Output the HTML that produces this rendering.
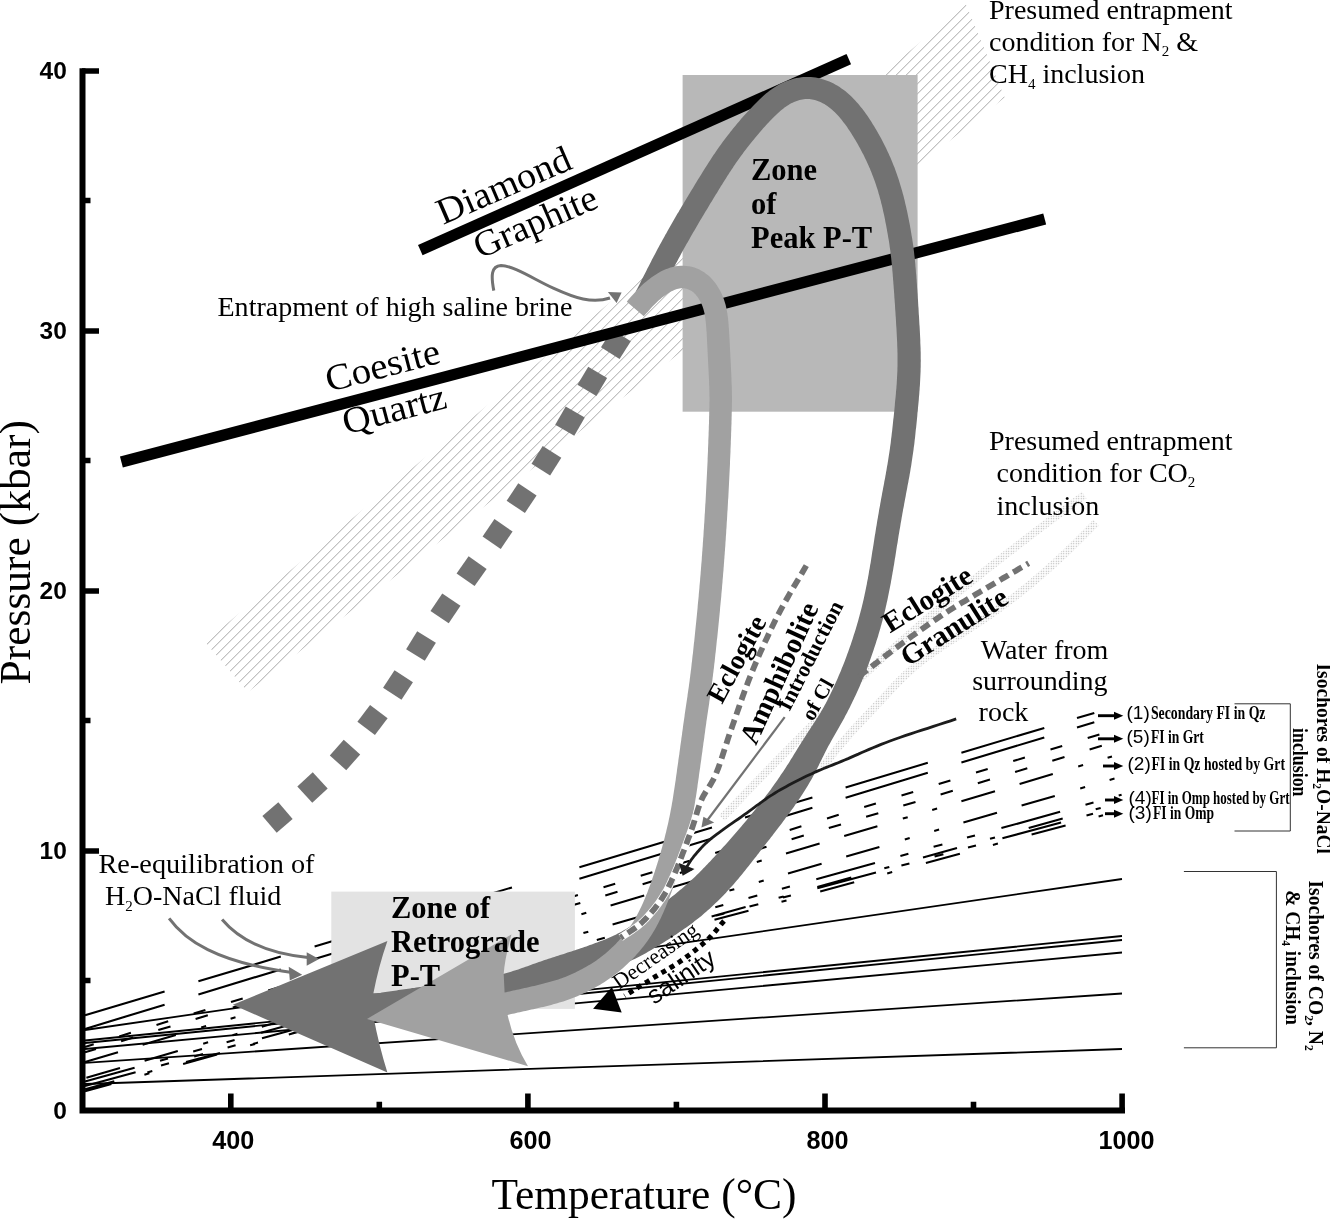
<!DOCTYPE html>
<html><head><meta charset="utf-8"><title>P-T path diagram</title>
<style>
html,body{margin:0;padding:0;background:#fff;}
body{width:1330px;height:1219px;overflow:hidden;}
svg{display:block;}
text{fill:#000;}
</style></head><body>
<svg width="1330" height="1219" viewBox="0 0 1330 1219">
<defs>
<pattern id="hatch" patternUnits="userSpaceOnUse" width="10" height="10" patternTransform="translate(1.3 0)">
<path d="M-1 1L1 -1M0 10L10 0M9 11L11 9" stroke="#a6a6a6" stroke-width="1" fill="none"/>
</pattern>
<pattern id="stip" patternUnits="userSpaceOnUse" width="2.5" height="2.5">
<rect x="0.7" y="0.7" width="1.1" height="1.1" fill="#aaaaaa"/>
</pattern>
</defs>
<rect x="0" y="0" width="1330" height="1219" fill="#fff"/>
<polygon points="205,642 965.8,4 1004.7,97.6 248,692" fill="url(#hatch)"/>
<rect x="682.6" y="75" width="235" height="336.7" fill="#b8b8b8"/>
<path d="M722.0 818.0 L723.4 816.5 L724.8 815.1 L726.1 813.6 L727.5 812.2 L728.9 810.7 L730.3 809.3 L731.6 807.9 L733.0 806.4 L734.4 805.0 L735.8 803.5 L737.2 802.1 L738.5 800.6 L739.9 799.2 L741.3 797.7 L742.7 796.3 L744.1 794.8 L745.4 793.4 L746.8 791.9 L748.2 790.5 L749.6 789.0 L751.0 787.6 L752.4 786.2 L753.8 784.7 L755.1 783.3 L756.5 781.8 L757.9 780.4 L759.3 779.0 L760.7 777.5 L762.1 776.1 L763.5 774.7 L764.9 773.2 L766.3 771.8 L767.7 770.4 L769.1 768.9 L770.5 767.5 L771.9 766.1 L773.3 764.6 L774.6 763.2 L776.0 761.8 L777.4 760.3 L778.8 758.9 L780.2 757.5 L781.7 756.1 L783.1 754.6 L784.5 753.2 L785.9 751.8 L787.3 750.4 L788.7 748.9 L790.1 747.5 L791.5 746.1 L792.9 744.7 L794.3 743.2 L795.7 741.8 L797.1 740.4 L798.5 739.0 L799.9 737.5 L801.3 736.1 L802.7 734.7 L804.1 733.3 L805.5 731.9 L806.9 730.4 L808.4 729.0 L809.8 727.6 L811.2 726.2 L812.6 724.8 L814.0 723.4 L815.4 721.9 L816.8 720.5 L818.2 719.1 L819.6 717.7 L821.1 716.3 L822.5 714.9 L823.9 713.4 L825.3 712.0 L826.7 710.6 L828.1 709.2 L829.6 707.8 L831.0 706.4 L832.4 705.0 L833.8 703.6 L835.3 702.2 L836.7 700.8 L838.1 699.4 L839.6 698.0 L841.0 696.6 L842.4 695.2 L843.9 693.8 L845.3 692.4 L846.7 691.1 L848.2 689.7 L849.6 688.3 L851.1 686.9 L852.5 685.5 L854.0 684.2 L855.4 682.8 L856.9 681.4 L858.4 680.1 L859.8 678.7 L861.3 677.3 L862.7 676.0 L864.2 674.6 L865.7 673.3 L867.2 671.9 L868.6 670.5 L870.1 669.2 L871.6 667.8 L873.1 666.5 L874.5 665.2 L876.0 663.8 L877.5 662.5 L879.0 661.1 L880.5 659.8 L882.0 658.5 L883.4 657.1 L884.9 655.8 L886.4 654.5 L887.9 653.1 L889.4 651.8 L890.9 650.5 L892.4 649.1 L893.9 647.8 L895.4 646.5 L896.9 645.2 L898.4 643.8 L899.9 642.5 L901.4 641.2 L902.9 639.9 L904.4 638.5 L905.9 637.2 L907.4 635.9 L908.9 634.6 L910.4 633.3 L911.9 632.0 L913.4 630.6 L914.9 629.3 L916.4 628.0 L917.9 626.7 L919.4 625.4 L921.0 624.1 L922.5 622.8 L924.0 621.4 L925.5 620.1 L927.0 618.8 L928.5 617.5 L930.0 616.2 L931.5 614.9 L933.1 613.6 L934.6 612.3 L936.1 611.0 L937.6 609.7 L939.1 608.4 L940.7 607.1 L942.2 605.8 L943.7 604.5 L945.2 603.2 L946.8 602.0 L948.3 600.7 L949.8 599.4 L951.4 598.1 L952.9 596.8 L954.4 595.5 L956.0 594.3 L957.5 593.0 L959.1 591.7 L960.6 590.5 L962.2 589.2 L963.7 587.9 L965.3 586.7 L966.8 585.4 L968.4 584.1 L969.9 582.9 L971.5 581.6 L973.0 580.4 L974.6 579.1 L976.2 577.9 L977.7 576.6 L979.3 575.4 L980.8 574.1 L982.4 572.9 L984.0 571.6 L985.5 570.4 L987.1 569.2 L988.7 567.9 L990.3 566.7 L991.8 565.5 L993.4 564.2 L995.0 563.0 L996.6 561.8 L998.1 560.5 L999.7 559.3 L1001.3 558.1 L1002.9 556.8 L1004.4 555.6 L1006.0 554.4 L1007.6 553.2 L1009.2 551.9 L1010.8 550.7 L1012.4 549.5 L1013.9 548.3 L1015.5 547.1 L1017.1 545.8 L1018.7 544.6 L1020.3 543.4 L1021.9 542.2 L1023.4 541.0 L1025.0 539.8 L1026.6 538.5 L1028.2 537.3 L1029.8 536.1 L1031.4 534.9 L1033.0 533.7 L1034.5 532.5 L1036.1 531.3 L1037.7 530.1 L1039.3 528.9 L1040.9 527.7 L1042.4 526.5 L1044.0 525.3 L1045.6 524.1 L1047.2 522.9 L1048.7 521.7 L1050.3 520.5 L1051.9 519.3 L1053.4 518.2 L1055.0 517.0 L1056.6 515.8 L1058.1 514.6 L1059.7 513.5 L1061.2 512.3 L1062.8 511.1 L1064.3 509.9 L1065.9 508.8 L1067.4 507.6 L1068.9 506.5 L1070.5 505.3 L1072.0 504.2 L1073.5 503.0 L1075.1 501.9 L1076.6 500.7 L1078.1 499.6 L1079.6 498.4 L1081.2 497.3 L1082.7 496.1 L1084.2 495.0" fill="none" stroke="url(#stip)" stroke-width="8"/>
<path d="M822.0 768.0 L823.2 766.4 L824.4 764.8 L825.6 763.3 L826.8 761.7 L828.1 760.1 L829.3 758.5 L830.5 757.0 L831.7 755.4 L833.0 753.9 L834.2 752.3 L835.4 750.7 L836.7 749.2 L838.0 747.7 L839.2 746.1 L840.5 744.6 L841.8 743.1 L843.1 741.6 L844.4 740.1 L845.7 738.6 L847.0 737.1 L848.3 735.6 L849.6 734.1 L851.0 732.6 L852.3 731.2 L853.6 729.7 L855.0 728.2 L856.3 726.8 L857.7 725.3 L859.1 723.9 L860.4 722.4 L861.8 720.9 L863.2 719.5 L864.5 718.1 L865.9 716.6 L867.3 715.2 L868.6 713.7 L870.0 712.3 L871.4 710.8 L872.7 709.4 L874.1 707.9 L875.4 706.5 L876.8 705.0 L878.2 703.6 L879.5 702.1 L880.9 700.7 L882.2 699.2 L883.6 697.8 L884.9 696.3 L886.3 694.9 L887.6 693.4 L889.0 692.0 L890.3 690.5 L891.7 689.1 L893.0 687.6 L894.4 686.2 L895.7 684.8 L897.1 683.4 L898.5 681.9 L899.9 680.5 L901.3 679.1 L902.7 677.8 L904.1 676.4 L905.5 675.0 L906.9 673.7 L908.4 672.3 L909.8 671.0 L911.3 669.7 L912.7 668.4 L914.2 667.1 L915.7 665.8 L917.2 664.5 L918.7 663.3 L920.3 662.0 L921.8 660.8 L923.4 659.6 L924.9 658.4 L926.5 657.2 L928.1 656.0 L929.7 654.9 L931.3 653.7 L932.9 652.6 L934.5 651.4 L936.2 650.3 L937.8 649.2 L939.5 648.1 L941.1 646.9 L942.8 645.8 L944.4 644.8 L946.1 643.7 L947.8 642.6 L949.4 641.5 L951.1 640.4 L952.8 639.3 L954.5 638.3 L956.2 637.2 L957.8 636.1 L959.5 635.0 L961.2 634.0 L962.9 632.9 L964.6 631.8 L966.2 630.7 L967.9 629.6 L969.6 628.6 L971.3 627.5 L973.0 626.4 L974.6 625.3 L976.3 624.2 L978.0 623.1 L979.6 622.0 L981.3 620.9 L982.9 619.7 L984.6 618.6 L986.2 617.5 L987.9 616.4 L989.5 615.2 L991.2 614.1 L992.8 612.9 L994.4 611.8 L996.0 610.6 L997.7 609.4 L999.3 608.3 L1000.9 607.1 L1002.5 605.9 L1004.1 604.7 L1005.7 603.5 L1007.3 602.3 L1008.9 601.1 L1010.5 599.9 L1012.1 598.7 L1013.7 597.5 L1015.3 596.3 L1016.8 595.0 L1018.4 593.8 L1020.0 592.6 L1021.5 591.3 L1023.1 590.1 L1024.6 588.8 L1026.2 587.6 L1027.7 586.3 L1029.3 585.0 L1030.8 583.8 L1032.4 582.5 L1033.9 581.2 L1035.4 579.9 L1036.9 578.6 L1038.5 577.3 L1040.0 576.0 L1041.5 574.7 L1043.0 573.4 L1044.5 572.1 L1046.0 570.8 L1047.5 569.5 L1049.0 568.1 L1050.5 566.8 L1052.0 565.5 L1053.4 564.1 L1054.9 562.8 L1056.4 561.5 L1057.9 560.1 L1059.3 558.7 L1060.8 557.4 L1062.2 556.0 L1063.7 554.7 L1065.1 553.3 L1066.6 551.9 L1068.0 550.6 L1069.4 549.2 L1070.8 547.8 L1072.3 546.4 L1073.7 545.0 L1075.1 543.6 L1076.5 542.3 L1077.9 540.9 L1079.3 539.5 L1080.7 538.1 L1082.1 536.7 L1083.5 535.3 L1084.9 533.9 L1086.3 532.5 L1087.7 531.1 L1089.1 529.7 L1090.5 528.3 L1091.8 526.9 L1093.2 525.5 L1094.6 524.1 L1096.0 522.7" fill="none" stroke="url(#stip)" stroke-width="8"/>
<path d="M85 1030.0L1122 879.0M85 1040.5L1122 936.0M85 1043.0L1122 940.0M85 1049.0L1122 952.5M85 1062.8L1122 993.5M85 1084.0L1122 1049.0" stroke="#000" stroke-width="1.8" fill="none"/>
<path d="M85.0 1015.3L164.6 991.5M198.4 981.3L280.8 956.6M314.6 946.5L397.0 921.8M430.0 911.9L512.0 887.4M579.4 867.2L712.0 827.5M745.0 817.6L812.4 797.4M845.6 787.4L927.8 762.8M961.4 752.7L1044.3 727.9M1077.0 718.1L1094.3 712.9M85.0 1028.9L164.6 1004.7M198.4 994.4L280.8 969.4M314.6 959.1L397.0 934.1M430.0 924.1L512.0 899.1M579.4 878.7L712.0 838.4M745.0 828.3L812.4 807.8M845.6 797.8L927.8 772.8M961.4 762.6L1044.3 737.4M1077.0 727.4L1094.3 722.2M85.0 1047.0L93.7 1044.3M119.2 1036.4L130.9 1032.8M156.5 1024.9L168.2 1021.3M193.7 1013.5L205.4 1009.9M231.0 1002.0L242.7 998.4M268.2 990.5L279.9 986.9M305.5 979.1L317.2 975.5M342.7 967.6L354.4 964.0M380.0 956.1L391.7 952.5M417.2 944.6L428.9 941.0M454.5 933.2L466.2 929.6M491.7 921.7L503.4 918.1M529.0 910.2L540.7 906.6M566.2 898.7L577.9 895.1M603.5 887.3L615.2 883.7M640.7 875.8L652.4 872.2M678.0 864.3L689.7 860.7M715.2 852.9L726.9 849.3M752.5 841.4L764.2 837.8M789.7 829.9L801.4 826.3M827.0 818.4L838.7 814.8M864.2 807.0L875.9 803.4M901.5 795.5L913.2 791.9M938.7 784.0L950.4 780.4M976.0 772.5L987.7 768.9M1013.2 761.1L1024.9 757.5M1050.5 749.6L1062.2 746.0M1087.7 738.1L1099.4 734.5M85.0 1052.2L96.0 1048.9M121.1 1041.3L133.3 1037.6M158.3 1030.1L170.5 1026.4M195.6 1018.9L207.8 1015.2M232.8 1007.6L245.0 1004.0M270.1 996.4L282.3 992.7M307.3 985.2L319.5 981.5M344.6 974.0L356.8 970.3M381.8 962.8L394.0 959.1M419.1 951.5L431.3 947.9M456.3 940.3L468.5 936.6M493.6 929.1L505.8 925.4M530.8 917.9L543.0 914.2M568.1 906.6L580.3 903.0M605.3 895.4L617.5 891.7M642.6 884.2L654.8 880.5M679.8 873.0L692.0 869.3M717.1 861.7L729.3 858.1M754.3 850.5L766.5 846.8M791.6 839.3L803.8 835.6M828.8 828.1L841.0 824.4M866.1 816.8L878.3 813.2M903.3 805.6L915.5 801.9M940.6 794.4L952.8 790.7M977.8 783.2L990.0 779.5M1015.1 772.0L1027.3 768.3M1052.3 760.7L1064.5 757.1M1089.6 749.5L1101.8 745.8M85.0 1062.0L118.0 1052.2M142.6 1044.8L175.8 1035.0M201.2 1027.4L206.1 1025.9M230.6 1018.7L235.5 1017.2M259.8 1010.0L293.4 1000.0M318.0 992.6L351.2 982.8M376.6 975.2L381.5 973.8M406.0 966.5L410.9 965.0M435.2 957.8L468.8 947.8M493.4 940.4L526.6 930.6M552.0 923.0L556.9 921.6M581.4 914.3L586.3 912.8M610.6 905.6L644.2 895.6M668.8 888.3L702.0 878.4M727.4 870.8L732.3 869.4M756.8 862.1L761.7 860.6M786.0 853.4L819.6 843.4M844.2 836.1L877.4 826.2M902.8 818.6L907.7 817.2M932.2 809.9L937.1 808.4M961.4 801.2L995.0 791.2M1019.6 783.9L1052.8 774.0M1078.2 766.4L1083.1 765.0M1107.6 757.7L1112.0 756.4M86.4 1077.7L120.0 1067.9M144.6 1060.8L177.8 1051.1M203.2 1043.7L208.1 1042.3M232.6 1035.2L237.5 1033.8M261.8 1026.7L295.4 1016.9M320.0 1009.7L353.2 1000.1M378.6 992.7L383.5 991.3M408.0 984.1L412.9 982.7M437.2 975.6L470.8 965.9M495.4 958.7L528.6 949.0M554.0 941.7L558.9 940.2M583.4 933.1L588.3 931.7M612.6 924.6L646.2 914.8M670.8 907.7L704.0 898.0M729.4 890.6L734.3 889.2M758.8 882.1L763.7 880.6M788.0 873.6L821.6 863.8M846.2 856.6L879.4 847.0M904.8 839.6L909.7 838.1M934.2 831.0L939.1 829.6M963.4 822.5L997.0 812.7M1021.6 805.6L1054.8 795.9M1080.2 788.5L1085.1 787.1M1109.6 780.0L1114.5 778.6M85.0 1081.4L134.6 1067.7M160.0 1060.7L168.0 1058.5M193.2 1051.5L202.0 1049.1M226.6 1042.3L234.6 1040.1M261.0 1032.8L319.7 1016.5M345.1 1009.5L353.1 1007.3M378.3 1000.3L387.1 997.9M411.7 991.1L419.7 988.9M446.1 981.6L504.8 965.4M530.2 958.3L538.2 956.1M563.4 949.2L572.2 946.7M596.8 939.9L604.8 937.7M631.2 930.4L689.9 914.2M715.3 907.2L723.3 904.9M748.5 898.0L757.3 895.5M781.9 888.7L789.9 886.5M816.3 879.2L875.0 863.0M900.4 856.0L908.4 853.8M933.6 846.8L942.4 844.4M967.0 837.6L975.0 835.4M1001.4 828.1L1060.1 811.8M1085.5 804.8L1093.5 802.6M1118.7 795.6L1121.6 794.8M85.0 1086.0L135.6 1072.3M161.0 1065.5L169.0 1063.3M194.2 1056.5L203.0 1054.1M227.6 1047.5L235.6 1045.3M262.0 1038.2L320.7 1022.3M346.1 1015.5L354.1 1013.3M379.3 1006.5L388.1 1004.1M412.7 997.5L420.7 995.3M447.1 988.2L505.8 972.4M531.2 965.5L539.2 963.3M564.4 956.5L573.2 954.2M597.8 947.5L605.8 945.4M632.2 938.2L690.9 922.4M716.3 915.5L724.3 913.4M749.5 906.6L758.3 904.2M782.9 897.5L790.9 895.4M817.3 888.2L876.0 872.4M901.4 865.5L909.4 863.4M934.6 856.6L943.4 854.2M968.0 847.6L976.0 845.4M1002.4 838.3L1061.1 822.4M1086.5 815.6L1093.0 813.8M85.0 1091.3L111.4 1083.9M144.4 1074.7L149.4 1073.3M183.1 1063.9L217.1 1054.5M250.1 1045.2L255.1 1043.9M288.8 1034.5L322.8 1025.0M355.8 1015.8L360.8 1014.4M394.5 1005.0L428.5 995.5M461.5 986.3L466.5 984.9M500.2 975.5L534.2 966.0M567.2 956.8L572.2 955.4M605.9 946.0L639.9 936.5M672.9 927.3L677.9 925.9M711.6 916.5L745.6 907.0M778.6 897.8L783.6 896.4M817.3 887.0L851.3 877.5M884.3 868.3L889.3 866.9M923.0 857.5L957.0 848.0M990.0 838.8L995.0 837.4M1028.7 828.0L1062.7 818.5M1095.7 809.3L1100.7 807.9M85.0 1089.2L114.3 1081.3M147.3 1072.4L152.3 1071.1M186.0 1062.0L220.0 1052.9M253.0 1044.0L258.0 1042.6M291.7 1033.6L325.7 1024.4M358.7 1015.5L363.7 1014.2M397.4 1005.1L431.4 996.0M464.4 987.1L469.4 985.8M503.1 976.7L537.1 967.6M570.1 958.7L575.1 957.3M608.8 948.3L642.8 939.1M675.8 930.2L680.8 928.9M714.5 919.8L748.5 910.7M781.5 901.8L786.5 900.5M820.2 891.4L854.2 882.3M887.2 873.4L892.2 872.0M925.9 863.0L959.9 853.8M992.9 844.9L997.9 843.6M1031.6 834.5L1065.6 825.4M1098.6 816.5L1103.0 815.3" stroke="#000" stroke-width="2.1" fill="none"/>
<rect x="331.3" y="891.6" width="243.6" height="117.3" fill="#e3e3e3"/>
<rect x="267.0" y="806.5" width="21" height="22" fill="#727272" transform="rotate(-40.6 277.5 817.5)"/>
<rect x="302.0" y="776.5" width="21" height="22" fill="#727272" transform="rotate(-42.8 312.5 787.5)"/>
<rect x="334.5" y="744.0" width="21" height="22" fill="#727272" transform="rotate(-48.4 345.0 755.0)"/>
<rect x="362.0" y="709.0" width="21" height="22" fill="#727272" transform="rotate(-52.9 372.5 720.0)"/>
<rect x="387.5" y="674.0" width="21" height="22" fill="#727272" transform="rotate(-56.8 398.0 685.0)"/>
<rect x="410.5" y="635.0" width="21" height="22" fill="#727272" transform="rotate(-58.2 421.0 646.0)"/>
<rect x="435.0" y="597.4" width="21" height="22" fill="#727272" transform="rotate(-55.9 445.5 608.4)"/>
<rect x="461.1" y="560.2" width="21" height="22" fill="#727272" transform="rotate(-55.0 471.6 571.2)"/>
<rect x="487.1" y="523.0" width="21" height="22" fill="#727272" transform="rotate(-55.6 497.6 534.0)"/>
<rect x="511.1" y="487.1" width="21" height="22" fill="#727272" transform="rotate(-56.3 521.6 498.1)"/>
<rect x="535.9" y="449.8" width="21" height="22" fill="#727272" transform="rotate(-57.8 546.4 460.8)"/>
<rect x="559.5" y="410.1" width="21" height="22" fill="#727272" transform="rotate(-60.0 570.0 421.1)"/>
<rect x="581.8" y="370.4" width="21" height="22" fill="#727272" transform="rotate(-59.2 592.3 381.4)"/>
<rect x="605.4" y="333.2" width="21" height="22" fill="#727272" transform="rotate(-57.6 615.9 344.2)"/>
<line x1="420.3" y1="250.1" x2="848.8" y2="59.1" stroke="#000" stroke-width="11.2"/>
<line x1="121.4" y1="462" x2="1044.7" y2="219" stroke="#000" stroke-width="11.3"/>
<path d="M635.7 291.8 L636.6 290.1 L637.5 288.3 L638.4 286.5 L639.3 284.7 L640.2 282.9 L641.1 281.1 L642.0 279.3 L642.9 277.5 L643.8 275.7 L644.7 274.0 L645.6 272.2 L646.5 270.4 L647.4 268.6 L648.4 266.8 L649.3 265.0 L650.2 263.2 L651.1 261.4 L652.0 259.6 L653.0 257.8 L653.9 256.0 L654.9 254.2 L655.8 252.4 L656.8 250.6 L657.7 248.8 L658.7 247.0 L659.6 245.3 L660.6 243.5 L661.6 241.7 L662.5 239.9 L663.5 238.2 L664.5 236.4 L665.5 234.6 L666.5 232.9 L667.5 231.1 L668.5 229.3 L669.5 227.6 L670.5 225.8 L671.5 224.1 L672.5 222.3 L673.5 220.6 L674.5 218.8 L675.5 217.1 L676.5 215.3 L677.5 213.6 L678.6 211.9 L679.6 210.1 L680.6 208.4 L681.7 206.6 L682.7 204.9 L683.7 203.2 L684.7 201.5 L685.8 199.7 L686.8 198.0 L687.9 196.3 L688.9 194.6 L689.9 192.9 L691.0 191.1 L692.0 189.4 L693.1 187.7 L694.1 186.0 L695.1 184.3 L696.2 182.6 L697.2 180.8 L698.3 179.1 L699.3 177.4 L700.4 175.7 L701.5 174.0 L702.5 172.3 L703.6 170.5 L704.7 168.8 L705.8 167.1 L706.8 165.4 L707.9 163.7 L709.0 162.0 L710.2 160.2 L711.3 158.5 L712.4 156.8 L713.5 155.1 L714.7 153.4 L715.8 151.7 L717.0 150.0 L718.2 148.3 L719.4 146.6 L720.6 145.0 L721.8 143.3 L723.0 141.6 L724.2 140.0 L725.5 138.3 L726.7 136.7 L728.0 135.0 L729.3 133.4 L730.5 131.8 L731.8 130.2 L733.1 128.6 L734.4 127.0 L735.7 125.4 L737.0 123.8 L738.4 122.2 L739.7 120.7 L741.0 119.1 L742.4 117.6 L743.7 116.0 L745.1 114.5 L746.5 112.9 L747.9 111.4 L749.3 109.9 L750.7 108.4 L752.1 106.9 L753.5 105.4 L755.0 103.9 L756.5 102.4 L758.0 100.9 L759.5 99.4 L761.1 97.9 L762.7 96.5 L764.3 95.0 L766.0 93.6 L767.7 92.2 L769.5 90.8 L771.3 89.5 L773.1 88.2 L775.0 87.0 L777.0 85.8 L779.0 84.6 L781.0 83.5 L783.1 82.5 L785.3 81.6 L787.5 80.7 L789.7 79.9 L791.9 79.2 L794.2 78.6 L796.5 78.1 L798.9 77.7 L801.3 77.3 L803.6 77.1 L806.0 77.0 L808.4 77.0 L810.8 77.1 L813.2 77.3 L815.6 77.6 L818.0 78.0 L820.3 78.6 L822.6 79.2 L824.9 79.9 L827.1 80.7 L829.3 81.6 L831.5 82.5 L833.6 83.6 L835.6 84.7 L837.6 85.8 L839.6 87.1 L841.5 88.4 L843.4 89.7 L845.2 91.1 L846.9 92.6 L848.6 94.0 L850.3 95.6 L851.9 97.1 L853.5 98.7 L855.0 100.3 L856.5 101.9 L858.0 103.6 L859.4 105.3 L860.7 106.9 L862.1 108.6 L863.4 110.3 L864.7 112.1 L865.9 113.8 L867.2 115.5 L868.4 117.3 L869.5 119.0 L870.7 120.8 L871.8 122.6 L872.9 124.4 L874.0 126.1 L875.1 127.9 L876.2 129.7 L877.2 131.5 L878.3 133.4 L879.3 135.2 L880.3 137.0 L881.3 138.8 L882.3 140.7 L883.2 142.5 L884.2 144.4 L885.1 146.3 L886.0 148.1 L886.9 150.0 L887.8 151.9 L888.7 153.8 L889.5 155.7 L890.4 157.6 L891.2 159.6 L892.0 161.5 L892.8 163.4 L893.6 165.4 L894.4 167.3 L895.1 169.3 L895.8 171.3 L896.5 173.2 L897.2 175.2 L897.9 177.2 L898.6 179.2 L899.2 181.2 L899.8 183.2 L900.4 185.2 L901.0 187.2 L901.6 189.2 L902.2 191.2 L902.7 193.2 L903.3 195.2 L903.8 197.2 L904.3 199.2 L904.8 201.2 L905.2 203.2 L905.7 205.3 L906.2 207.3 L906.6 209.3 L907.1 211.3 L907.5 213.3 L907.9 215.3 L908.3 217.3 L908.7 219.3 L909.1 221.3 L909.5 223.3 L909.9 225.3 L910.2 227.3 L910.6 229.3 L910.9 231.3 L911.3 233.4 L911.6 235.4 L912.0 237.4 L912.3 239.4 L912.6 241.5 L912.9 243.5 L913.2 245.6 L913.5 247.6 L913.7 249.6 L914.0 251.7 L914.2 253.7 L914.4 255.8 L914.7 257.8 L914.9 259.9 L915.1 261.9 L915.3 263.9 L915.4 266.0 L915.6 268.0 L915.8 270.0 L915.9 272.0 L916.1 274.0 L916.3 276.1 L916.4 278.1 L916.6 280.1 L916.7 282.1 L916.9 284.1 L917.0 286.1 L917.1 288.1 L917.3 290.1 L917.4 292.1 L917.6 294.1 L917.7 296.1 L917.8 298.1 L918.0 300.1 L918.1 302.1 L918.2 304.1 L918.3 306.1 L918.5 308.1 L918.6 310.1 L918.7 312.2 L918.8 314.2 L919.0 316.2 L919.1 318.2 L919.2 320.2 L919.3 322.2 L919.4 324.2 L919.6 326.2 L919.7 328.2 L919.8 330.2 L919.9 332.2 L920.0 334.3 L920.1 336.3 L920.2 338.3 L920.3 340.3 L920.3 342.4 L920.4 344.4 L920.5 346.4 L920.6 348.5 L920.6 350.5 L920.7 352.6 L920.7 354.6 L920.7 356.7 L920.7 358.8 L920.8 360.8 L920.7 362.9 L920.7 365.0 L920.7 367.0 L920.6 369.1 L920.6 371.2 L920.5 373.2 L920.4 375.3 L920.3 377.4 L920.2 379.4 L920.1 381.5 L920.0 383.5 L919.9 385.6 L919.7 387.6 L919.6 389.7 L919.4 391.7 L919.3 393.7 L919.1 395.7 L918.9 397.8 L918.8 399.8 L918.6 401.8 L918.4 403.8 L918.2 405.8 L918.0 407.8 L917.8 409.8 L917.6 411.8 L917.4 413.8 L917.3 415.8 L917.1 417.8 L916.9 419.8 L916.7 421.8 L916.5 423.8 L916.3 425.8 L916.1 427.8 L915.8 429.8 L915.6 431.8 L915.4 433.9 L915.2 435.9 L915.0 437.9 L914.7 439.9 L914.5 441.9 L914.3 443.9 L914.0 446.0 L913.7 448.0 L913.5 450.0 L913.2 452.0 L912.9 454.1 L912.6 456.1 L912.3 458.1 L912.0 460.1 L911.7 462.1 L911.4 464.2 L911.1 466.2 L910.7 468.2 L910.4 470.2 L910.1 472.2 L909.7 474.2 L909.4 476.2 L909.0 478.2 L908.6 480.2 L908.3 482.2 L907.9 484.1 L907.5 486.1 L907.2 488.1 L906.8 490.1 L906.4 492.0 L906.0 494.0 L905.7 495.9 L905.3 497.9 L904.9 499.9 L904.6 501.8 L904.2 503.8 L903.9 505.7 L903.5 507.7 L903.1 509.6 L902.8 511.6 L902.4 513.5 L902.1 515.5 L901.7 517.4 L901.4 519.4 L901.1 521.3 L900.7 523.3 L900.4 525.3 L900.1 527.2 L899.7 529.2 L899.4 531.1 L899.1 533.1 L898.7 535.0 L898.4 537.0 L898.1 539.0 L897.8 540.9 L897.5 542.9 L897.1 544.9 L896.8 546.8 L896.5 548.8 L896.2 550.8 L895.9 552.8 L895.6 554.7 L895.3 556.7 L894.9 558.7 L894.6 560.7 L894.3 562.7 L894.0 564.7 L893.6 566.7 L893.3 568.7 L893.0 570.6 L892.6 572.6 L892.3 574.6 L891.9 576.6 L891.6 578.6 L891.2 580.6 L890.9 582.6 L890.5 584.6 L890.1 586.6 L889.7 588.6 L889.3 590.6 L888.9 592.6 L888.5 594.6 L888.1 596.6 L887.7 598.6 L887.3 600.6 L886.8 602.6 L886.4 604.6 L885.9 606.6 L885.5 608.6 L885.0 610.6 L884.5 612.6 L884.0 614.6 L883.5 616.6 L883.0 618.6 L882.5 620.6 L881.9 622.6 L881.4 624.6 L880.8 626.5 L880.3 628.5 L879.7 630.5 L879.1 632.5 L878.5 634.4 L878.0 636.4 L877.4 638.3 L876.7 640.3 L876.1 642.3 L875.5 644.2 L874.9 646.1 L874.2 648.1 L873.6 650.0 L872.9 652.0 L872.2 653.9 L871.6 655.8 L870.9 657.8 L870.2 659.7 L869.5 661.6 L868.8 663.5 L868.1 665.5 L867.4 667.4 L866.6 669.3 L865.9 671.2 L865.1 673.1 L864.4 675.0 L863.6 676.9 L862.8 678.8 L862.0 680.7 L861.2 682.6 L860.4 684.5 L859.6 686.4 L858.8 688.3 L857.9 690.2 L857.1 692.0 L856.2 693.9 L855.4 695.8 L854.5 697.6 L853.6 699.5 L852.7 701.3 L851.8 703.2 L850.9 705.0 L850.0 706.9 L849.1 708.7 L848.1 710.5 L847.2 712.4 L846.2 714.2 L845.2 716.0 L844.3 717.9 L843.3 719.7 L842.3 721.5 L841.3 723.3 L840.3 725.1 L839.2 726.9 L838.2 728.7 L837.2 730.5 L836.2 732.3 L835.2 734.0 L834.2 735.8 L833.2 737.5 L832.2 739.2 L831.2 741.0 L830.3 742.7 L829.3 744.4 L828.4 746.1 L827.5 747.8 L826.6 749.5 L825.7 751.2 L824.8 753.0 L824.0 754.7 L823.1 756.4 L822.2 758.2 L821.4 760.0 L820.5 761.8 L819.6 763.6 L818.7 765.4 L817.8 767.2 L816.9 769.0 L816.0 770.9 L815.0 772.7 L814.1 774.5 L813.1 776.3 L812.1 778.2 L811.1 780.0 L810.0 781.8 L809.0 783.6 L807.9 785.4 L806.8 787.2 L805.7 789.0 L804.6 790.7 L803.5 792.5 L802.4 794.2 L801.2 796.0 L800.1 797.7 L798.9 799.4 L797.8 801.1 L796.6 802.8 L795.4 804.5 L794.3 806.2 L793.1 807.9 L791.9 809.5 L790.7 811.2 L789.5 812.9 L788.3 814.5 L787.1 816.2 L785.8 817.8 L784.6 819.5 L783.4 821.1 L782.2 822.7 L780.9 824.4 L779.7 826.0 L778.5 827.6 L777.2 829.2 L776.0 830.8 L774.7 832.5 L773.5 834.1 L772.3 835.7 L771.0 837.3 L769.8 838.9 L768.5 840.4 L767.3 842.0 L766.1 843.6 L764.8 845.2 L763.6 846.8 L762.4 848.4 L761.1 850.0 L759.9 851.6 L758.7 853.2 L757.4 854.8 L756.2 856.4 L754.9 858.0 L753.7 859.6 L752.5 861.1 L751.2 862.7 L750.0 864.3 L748.7 865.9 L747.4 867.5 L746.2 869.1 L744.9 870.7 L743.6 872.3 L742.3 873.9 L741.0 875.5 L739.7 877.1 L738.4 878.7 L737.0 880.3 L735.7 881.8 L734.3 883.4 L733.0 885.0 L731.6 886.5 L730.2 888.1 L728.8 889.6 L727.4 891.1 L726.0 892.7 L724.5 894.2 L723.1 895.7 L721.6 897.2 L720.1 898.7 L718.6 900.2 L717.1 901.7 L715.6 903.1 L714.1 904.6 L712.5 906.0 L711.0 907.5 L709.4 908.9 L707.8 910.3 L706.2 911.7 L704.6 913.1 L703.0 914.5 L701.4 915.9 L699.7 917.2 L698.1 918.5 L696.4 919.8 L694.7 921.1 L693.1 922.4 L691.4 923.7 L689.7 924.9 L688.0 926.2 L686.3 927.4 L684.6 928.6 L682.9 929.8 L681.2 930.9 L679.5 932.1 L677.8 933.3 L676.1 934.4 L674.3 935.5 L672.6 936.7 L670.9 937.8 L669.2 938.9 L667.5 940.0 L665.8 941.1 L664.0 942.2 L662.3 943.2 L660.6 944.3 L658.8 945.4 L657.0 946.5 L655.3 947.6 L653.5 948.6 L651.7 949.7 L649.9 950.8 L648.0 951.8 L646.2 952.9 L644.3 953.9 L642.4 954.9 L640.5 955.9 L638.6 956.9 L636.6 957.9 L634.7 958.9 L632.7 959.8 L630.8 960.7 L628.8 961.6 L626.8 962.4 L624.8 963.3 L622.8 964.1 L620.8 964.9 L618.8 965.6 L616.8 966.4 L614.9 967.1 L612.9 967.8 L610.9 968.5 L608.9 969.2 L607.0 969.9 L605.0 970.5 L603.0 971.2 L601.1 971.8 L599.1 972.4 L597.2 973.0 L595.2 973.6 L593.3 974.2 L591.3 974.8 L589.4 975.4 L587.4 976.0 L585.5 976.6 L583.5 977.2 L581.6 977.7 L579.6 978.3 L577.7 978.9 L575.8 979.4 L573.8 980.0 L571.9 980.5 L570.0 981.1 L568.0 981.6 L566.1 982.2 L564.2 982.7 L562.3 983.2 L560.4 983.8 L558.5 984.3 L556.6 984.9 L554.7 985.4 L552.8 986.0 L550.9 986.5 L549.0 987.1 L547.2 987.6 L545.3 988.2 L543.4 988.8 L541.5 989.3 L539.6 989.9 L537.7 990.5 L535.8 991.1 L533.8 991.7 L531.9 992.3 L529.9 992.9 L527.9 993.4 L525.9 994.0 L523.9 994.6 L521.9 995.1 L519.9 995.7 L517.8 996.2 L515.8 996.7 L513.7 997.2 L511.7 997.7 L509.6 998.1 L507.5 998.6 L505.5 999.0 L503.4 999.4 L501.3 999.8 L499.3 1000.2 L497.2 1000.5 L495.2 1000.9 L493.1 1001.2 L491.1 1001.5 L489.0 1001.8 L487.0 1002.1 L485.0 1002.4 L483.0 1002.7 L481.0 1002.9 L478.9 1003.2 L476.9 1003.5 L474.9 1003.7 L472.9 1004.0 L470.9 1004.2 L469.0 1004.5 L467.0 1004.7 L465.0 1005.0 L463.0 1005.2 L461.0 1005.5 L459.0 1005.7 L457.0 1006.0 L455.0 1006.2 L453.0 1006.4 L451.0 1006.7 L449.1 1006.9 L447.1 1007.2 L445.1 1007.4 L443.1 1007.6 L441.1 1007.9 L439.1 1008.1 L437.1 1008.4 L435.1 1008.6 L433.2 1008.8 L431.2 1009.1 L429.2 1009.3 L427.2 1009.6 L425.2 1009.8 L423.3 1010.0 L421.3 1010.3 L419.3 1010.5 L417.3 1010.8 L415.4 1011.1 L413.4 1011.3 L411.5 1011.6 L409.5 1011.8 L407.6 1012.1 L405.6 1012.4 L403.7 1012.7 L401.8 1012.9 L399.9 1013.2 L398.0 1013.5 L396.1 1013.7 L394.3 1014.0 L392.4 1014.3 L390.6 1014.5 L388.8 1014.8 L387.0 1015.1 L385.2 1015.3 L383.5 1015.6 L381.7 1015.9L373.4 1016.3Q379 1046 387.4 1072.5L232.8 1004.8L387.4 940.9Q378.5 966.5 373.4 993.3L378.3 993.1 L380.1 992.9 L381.9 992.6 L383.6 992.3 L385.4 992.1 L387.2 991.8 L389.1 991.5 L390.9 991.2 L392.8 991.0 L394.7 990.7 L396.6 990.4 L398.5 990.1 L400.4 989.8 L402.4 989.6 L404.3 989.3 L406.3 989.0 L408.3 988.7 L410.3 988.4 L412.2 988.1 L414.2 987.9 L416.2 987.6 L418.2 987.3 L420.2 987.0 L422.2 986.7 L424.2 986.5 L426.2 986.2 L428.1 985.9 L430.1 985.6 L432.1 985.3 L434.1 985.1 L436.1 984.8 L438.0 984.5 L440.0 984.2 L442.0 983.9 L444.0 983.7 L446.0 983.4 L447.9 983.1 L449.9 982.8 L451.9 982.5 L453.9 982.3 L455.8 982.0 L457.8 981.7 L459.8 981.4 L461.8 981.1 L463.7 980.8 L465.7 980.5 L467.7 980.3 L469.6 980.0 L471.6 979.7 L473.6 979.4 L475.5 979.1 L477.5 978.8 L479.4 978.5 L481.4 978.2 L483.3 977.9 L485.2 977.5 L487.1 977.2 L489.0 976.9 L490.9 976.5 L492.8 976.2 L494.7 975.8 L496.5 975.4 L498.4 975.0 L500.2 974.6 L502.0 974.1 L503.9 973.7 L505.7 973.2 L507.5 972.7 L509.3 972.2 L511.1 971.7 L512.9 971.1 L514.7 970.6 L516.5 970.0 L518.3 969.4 L520.1 968.8 L522.0 968.1 L523.8 967.5 L525.6 966.8 L527.5 966.2 L529.4 965.5 L531.3 964.8 L533.1 964.1 L535.0 963.5 L537.0 962.8 L538.9 962.1 L540.8 961.4 L542.7 960.8 L544.6 960.1 L546.6 959.5 L548.5 958.8 L550.4 958.2 L552.4 957.6 L554.3 956.9 L556.2 956.3 L558.1 955.7 L560.0 955.1 L561.9 954.5 L563.8 953.9 L565.7 953.2 L567.6 952.6 L569.5 952.0 L571.4 951.4 L573.2 950.8 L575.1 950.2 L577.0 949.6 L578.8 948.9 L580.7 948.3 L582.5 947.7 L584.4 947.0 L586.3 946.4 L588.1 945.7 L589.9 945.1 L591.8 944.4 L593.6 943.8 L595.4 943.1 L597.2 942.4 L599.0 941.7 L600.8 941.1 L602.6 940.4 L604.3 939.7 L606.1 938.9 L607.8 938.2 L609.5 937.5 L611.2 936.7 L612.9 936.0 L614.5 935.2 L616.2 934.4 L617.8 933.6 L619.4 932.7 L621.0 931.9 L622.6 931.0 L624.2 930.1 L625.8 929.2 L627.3 928.3 L628.9 927.3 L630.5 926.3 L632.0 925.3 L633.6 924.3 L635.2 923.3 L636.8 922.2 L638.3 921.1 L639.9 920.0 L641.5 918.9 L643.1 917.8 L644.7 916.7 L646.3 915.6 L647.9 914.4 L649.5 913.3 L651.1 912.2 L652.7 911.0 L654.3 909.9 L655.9 908.7 L657.4 907.6 L659.0 906.5 L660.6 905.3 L662.1 904.2 L663.7 903.0 L665.2 901.9 L666.7 900.7 L668.2 899.5 L669.7 898.4 L671.2 897.2 L672.7 896.1 L674.2 894.9 L675.7 893.7 L677.1 892.5 L678.6 891.3 L680.0 890.1 L681.5 888.9 L682.9 887.7 L684.3 886.5 L685.7 885.3 L687.1 884.0 L688.5 882.8 L689.9 881.5 L691.2 880.3 L692.6 879.0 L694.0 877.7 L695.3 876.4 L696.7 875.1 L698.1 873.7 L699.4 872.4 L700.8 871.0 L702.1 869.7 L703.4 868.3 L704.8 867.0 L706.1 865.6 L707.4 864.2 L708.7 862.8 L710.1 861.4 L711.4 860.0 L712.7 858.6 L714.0 857.2 L715.3 855.8 L716.7 854.3 L718.0 852.9 L719.3 851.5 L720.6 850.0 L721.9 848.6 L723.2 847.1 L724.5 845.7 L725.9 844.2 L727.2 842.7 L728.5 841.2 L729.8 839.8 L731.1 838.3 L732.4 836.8 L733.7 835.3 L735.0 833.8 L736.3 832.3 L737.6 830.8 L738.9 829.3 L740.2 827.8 L741.5 826.2 L742.7 824.7 L744.0 823.2 L745.3 821.7 L746.6 820.2 L747.8 818.6 L749.1 817.1 L750.3 815.6 L751.6 814.1 L752.8 812.5 L754.1 811.0 L755.3 809.5 L756.5 808.0 L757.8 806.4 L759.0 804.9 L760.2 803.3 L761.4 801.8 L762.6 800.3 L763.8 798.7 L764.9 797.2 L766.1 795.6 L767.3 794.1 L768.5 792.5 L769.6 790.9 L770.8 789.4 L771.9 787.8 L773.0 786.2 L774.2 784.6 L775.3 783.1 L776.4 781.5 L777.5 779.9 L778.6 778.3 L779.7 776.7 L780.7 775.1 L781.8 773.6 L782.9 772.0 L783.9 770.4 L785.0 768.8 L786.0 767.2 L787.0 765.6 L788.1 764.0 L789.1 762.4 L790.1 760.7 L791.1 759.1 L792.2 757.4 L793.2 755.8 L794.2 754.1 L795.2 752.4 L796.3 750.8 L797.3 749.0 L798.4 747.3 L799.4 745.6 L800.5 743.9 L801.6 742.1 L802.7 740.4 L803.8 738.7 L804.9 736.9 L806.0 735.2 L807.1 733.4 L808.2 731.7 L809.4 730.0 L810.5 728.3 L811.6 726.6 L812.7 725.0 L813.8 723.3 L814.9 721.6 L815.9 720.0 L817.0 718.3 L818.0 716.7 L819.0 715.0 L820.0 713.4 L821.0 711.7 L822.0 710.1 L822.9 708.4 L823.9 706.7 L824.8 705.1 L825.7 703.4 L826.6 701.7 L827.5 699.9 L828.3 698.2 L829.2 696.5 L830.1 694.7 L830.9 693.0 L831.8 691.2 L832.6 689.5 L833.4 687.7 L834.2 686.0 L835.0 684.2 L835.8 682.4 L836.6 680.7 L837.4 678.9 L838.2 677.1 L838.9 675.3 L839.7 673.5 L840.5 671.7 L841.2 669.9 L841.9 668.1 L842.7 666.3 L843.4 664.5 L844.1 662.7 L844.8 660.9 L845.5 659.1 L846.2 657.3 L846.8 655.4 L847.5 653.6 L848.2 651.8 L848.8 649.9 L849.5 648.1 L850.1 646.2 L850.8 644.4 L851.4 642.6 L852.0 640.7 L852.6 638.9 L853.2 637.0 L853.8 635.1 L854.4 633.3 L855.0 631.4 L855.6 629.6 L856.1 627.7 L856.7 625.8 L857.2 624.0 L857.8 622.1 L858.3 620.2 L858.8 618.3 L859.3 616.5 L859.8 614.6 L860.3 612.7 L860.8 610.8 L861.3 608.9 L861.8 607.1 L862.2 605.2 L862.7 603.3 L863.1 601.4 L863.6 599.5 L864.0 597.6 L864.4 595.7 L864.8 593.8 L865.2 591.9 L865.6 589.9 L866.0 588.0 L866.4 586.1 L866.8 584.2 L867.1 582.3 L867.5 580.3 L867.9 578.4 L868.2 576.5 L868.6 574.5 L868.9 572.6 L869.2 570.6 L869.6 568.7 L869.9 566.8 L870.2 564.8 L870.6 562.9 L870.9 560.9 L871.2 558.9 L871.5 557.0 L871.8 555.0 L872.1 553.0 L872.4 551.1 L872.8 549.1 L873.1 547.1 L873.4 545.2 L873.7 543.2 L874.0 541.2 L874.3 539.2 L874.6 537.2 L874.9 535.2 L875.3 533.3 L875.6 531.3 L875.9 529.3 L876.2 527.3 L876.6 525.3 L876.9 523.3 L877.2 521.3 L877.5 519.4 L877.9 517.4 L878.2 515.4 L878.6 513.4 L878.9 511.4 L879.2 509.4 L879.6 507.4 L880.0 505.4 L880.3 503.5 L880.7 501.5 L881.0 499.5 L881.4 497.5 L881.8 495.5 L882.1 493.6 L882.5 491.6 L882.9 489.6 L883.2 487.7 L883.6 485.7 L884.0 483.7 L884.3 481.8 L884.7 479.8 L885.1 477.9 L885.4 475.9 L885.8 474.0 L886.1 472.0 L886.5 470.1 L886.8 468.1 L887.1 466.2 L887.5 464.3 L887.8 462.3 L888.1 460.4 L888.4 458.5 L888.7 456.5 L889.0 454.6 L889.3 452.7 L889.6 450.7 L889.9 448.8 L890.1 446.9 L890.4 444.9 L890.7 443.0 L890.9 441.0 L891.1 439.1 L891.4 437.1 L891.6 435.2 L891.8 433.2 L892.1 431.3 L892.3 429.3 L892.5 427.3 L892.7 425.4 L892.9 423.4 L893.1 421.4 L893.3 419.4 L893.6 417.5 L893.8 415.5 L894.0 413.5 L894.2 411.5 L894.4 409.5 L894.6 407.6 L894.8 405.6 L894.9 403.6 L895.1 401.6 L895.3 399.6 L895.5 397.7 L895.7 395.7 L895.9 393.7 L896.0 391.8 L896.2 389.8 L896.4 387.9 L896.5 385.9 L896.7 384.0 L896.8 382.0 L896.9 380.1 L897.0 378.2 L897.1 376.2 L897.2 374.3 L897.3 372.4 L897.4 370.4 L897.4 368.5 L897.5 366.6 L897.5 364.7 L897.5 362.7 L897.5 360.8 L897.5 358.9 L897.5 356.9 L897.5 355.0 L897.5 353.1 L897.4 351.1 L897.4 349.2 L897.3 347.2 L897.2 345.3 L897.2 343.3 L897.1 341.3 L897.0 339.4 L896.9 337.4 L896.8 335.4 L896.7 333.5 L896.6 331.5 L896.5 329.5 L896.4 327.5 L896.2 325.5 L896.1 323.5 L896.0 321.6 L895.9 319.6 L895.8 317.6 L895.6 315.6 L895.5 313.6 L895.4 311.6 L895.2 309.6 L895.1 307.7 L895.0 305.7 L894.9 303.7 L894.7 301.7 L894.6 299.7 L894.4 297.7 L894.3 295.7 L894.2 293.7 L894.0 291.8 L893.9 289.8 L893.7 287.8 L893.6 285.8 L893.4 283.8 L893.3 281.8 L893.1 279.9 L893.0 277.9 L892.8 275.9 L892.7 273.9 L892.5 272.0 L892.3 270.0 L892.2 268.1 L892.0 266.1 L891.8 264.2 L891.6 262.2 L891.4 260.3 L891.2 258.3 L891.0 256.4 L890.7 254.5 L890.5 252.6 L890.3 250.7 L890.0 248.7 L889.7 246.8 L889.5 244.9 L889.2 243.0 L888.9 241.1 L888.6 239.2 L888.2 237.2 L887.9 235.3 L887.6 233.4 L887.2 231.5 L886.9 229.5 L886.5 227.6 L886.2 225.7 L885.8 223.8 L885.4 221.9 L885.1 219.9 L884.7 218.0 L884.3 216.1 L883.9 214.2 L883.4 212.3 L883.0 210.4 L882.6 208.5 L882.2 206.7 L881.7 204.8 L881.2 202.9 L880.8 201.1 L880.3 199.2 L879.8 197.4 L879.3 195.5 L878.7 193.7 L878.2 191.8 L877.7 190.0 L877.1 188.2 L876.5 186.4 L875.9 184.6 L875.3 182.8 L874.7 181.0 L874.0 179.2 L873.4 177.4 L872.7 175.7 L872.0 173.9 L871.3 172.1 L870.6 170.4 L869.9 168.6 L869.1 166.9 L868.4 165.2 L867.6 163.4 L866.8 161.7 L866.0 160.0 L865.1 158.3 L864.3 156.6 L863.5 154.8 L862.6 153.2 L861.7 151.5 L860.8 149.8 L859.9 148.1 L859.0 146.4 L858.1 144.7 L857.1 143.1 L856.2 141.4 L855.2 139.8 L854.2 138.2 L853.2 136.5 L852.2 134.9 L851.2 133.3 L850.2 131.8 L849.2 130.2 L848.1 128.7 L847.1 127.1 L846.0 125.6 L844.9 124.1 L843.8 122.7 L842.7 121.3 L841.6 119.8 L840.5 118.5 L839.3 117.1 L838.2 115.8 L837.0 114.5 L835.8 113.3 L834.6 112.1 L833.4 110.9 L832.1 109.8 L830.9 108.7 L829.6 107.7 L828.3 106.7 L827.0 105.8 L825.7 104.9 L824.4 104.1 L823.1 103.4 L821.8 102.7 L820.4 102.0 L819.0 101.4 L817.7 100.9 L816.3 100.5 L814.9 100.1 L813.5 99.7 L812.2 99.5 L810.8 99.3 L809.4 99.1 L808.0 99.1 L806.6 99.1 L805.2 99.1 L803.8 99.3 L802.4 99.5 L801.0 99.7 L799.6 100.1 L798.2 100.5 L796.8 100.9 L795.4 101.4 L794.0 102.0 L792.6 102.7 L791.2 103.3 L789.9 104.1 L788.5 104.9 L787.2 105.8 L785.8 106.7 L784.5 107.6 L783.2 108.7 L781.8 109.7 L780.5 110.8 L779.2 112.0 L777.8 113.2 L776.5 114.4 L775.2 115.7 L773.9 117.0 L772.6 118.3 L771.2 119.7 L769.9 121.0 L768.6 122.4 L767.3 123.8 L766.0 125.2 L764.7 126.7 L763.4 128.1 L762.2 129.6 L760.9 131.0 L759.6 132.5 L758.4 134.0 L757.1 135.5 L755.8 136.9 L754.6 138.4 L753.4 139.9 L752.1 141.4 L750.9 142.9 L749.7 144.5 L748.5 146.0 L747.3 147.5 L746.2 149.0 L745.0 150.6 L743.8 152.1 L742.7 153.7 L741.5 155.2 L740.4 156.8 L739.3 158.3 L738.1 159.9 L737.0 161.5 L735.9 163.1 L734.8 164.7 L733.7 166.3 L732.7 167.9 L731.6 169.5 L730.5 171.2 L729.4 172.8 L728.4 174.4 L727.3 176.1 L726.3 177.7 L725.2 179.4 L724.2 181.1 L723.1 182.7 L722.1 184.4 L721.0 186.1 L720.0 187.8 L718.9 189.5 L717.9 191.2 L716.9 192.9 L715.8 194.6 L714.8 196.3 L713.7 198.0 L712.7 199.7 L711.7 201.4 L710.6 203.1 L709.6 204.8 L708.6 206.5 L707.6 208.2 L706.5 209.9 L705.5 211.6 L704.5 213.3 L703.5 215.0 L702.4 216.7 L701.4 218.4 L700.4 220.1 L699.4 221.8 L698.4 223.5 L697.4 225.2 L696.4 226.9 L695.4 228.7 L694.4 230.4 L693.4 232.1 L692.4 233.8 L691.4 235.5 L690.4 237.2 L689.5 239.0 L688.5 240.7 L687.5 242.4 L686.5 244.1 L685.6 245.8 L684.6 247.6 L683.6 249.3 L682.7 251.0 L681.7 252.8 L680.8 254.5 L679.9 256.2 L678.9 258.0 L678.0 259.7 L677.1 261.4 L676.1 263.2 L675.2 264.9 L674.3 266.7 L673.4 268.4 L672.5 270.2 L671.6 271.9 L670.7 273.7 L669.7 275.5 L668.8 277.2 L667.9 279.0 L667.0 280.8 L666.1 282.5 L665.3 284.3 L664.4 286.1 L663.5 287.9 L662.6 289.7 L661.7 291.4 L660.8 293.2 L659.9 295.0 L659.0 296.8 L658.1 298.6 L657.2 300.4 L656.3 302.2Z" fill="#727272"/>
<path d="M626.8 301.7 L628.1 300.1 L629.4 298.6 L630.7 297.1 L632.1 295.5 L633.5 293.9 L634.9 292.4 L636.4 290.8 L637.9 289.2 L639.5 287.7 L641.1 286.1 L642.7 284.6 L644.3 283.1 L646.0 281.7 L647.8 280.3 L649.5 278.9 L651.3 277.5 L653.2 276.2 L655.1 274.9 L657.1 273.7 L659.1 272.5 L661.2 271.3 L663.4 270.3 L665.7 269.3 L668.0 268.4 L670.4 267.6 L672.9 266.9 L675.5 266.3 L678.2 266.0 L680.9 265.8 L683.6 265.7 L686.3 265.9 L689.0 266.3 L691.7 266.8 L694.4 267.6 L696.9 268.5 L699.4 269.6 L701.8 270.9 L704.1 272.3 L706.3 273.9 L708.4 275.6 L710.3 277.3 L712.1 279.2 L713.8 281.2 L715.3 283.1 L716.7 285.1 L718.0 287.2 L719.3 289.2 L720.4 291.3 L721.5 293.5 L722.5 295.7 L723.4 297.9 L724.2 300.2 L724.9 302.5 L725.6 304.8 L726.1 307.0 L726.6 309.3 L727.0 311.6 L727.4 313.8 L727.7 315.9 L728.0 318.1 L728.2 320.2 L728.4 322.3 L728.6 324.4 L728.7 326.5 L728.9 328.6 L729.0 330.6 L729.1 332.7 L729.3 334.7 L729.4 336.7 L729.5 338.7 L729.6 340.8 L729.7 342.8 L729.8 344.8 L729.9 346.8 L730.0 348.8 L730.1 350.7 L730.2 352.7 L730.3 354.7 L730.4 356.7 L730.5 358.7 L730.6 360.7 L730.7 362.7 L730.8 364.7 L730.9 366.7 L731.0 368.7 L731.1 370.7 L731.2 372.8 L731.3 374.8 L731.4 376.8 L731.5 378.8 L731.5 380.8 L731.6 382.9 L731.7 384.9 L731.8 386.9 L731.8 389.0 L731.9 391.0 L731.9 393.1 L731.9 395.1 L732.0 397.2 L732.0 399.3 L732.0 401.3 L731.9 403.4 L731.9 405.4 L731.9 407.5 L731.8 409.5 L731.8 411.5 L731.7 413.5 L731.7 415.6 L731.6 417.6 L731.6 419.6 L731.5 421.6 L731.5 423.6 L731.4 425.6 L731.3 427.6 L731.3 429.6 L731.2 431.6 L731.1 433.6 L731.1 435.6 L731.0 437.6 L730.9 439.7 L730.8 441.7 L730.8 443.7 L730.7 445.7 L730.6 447.7 L730.5 449.7 L730.5 451.7 L730.4 453.7 L730.3 455.7 L730.2 457.7 L730.1 459.7 L730.0 461.7 L730.0 463.7 L729.9 465.7 L729.8 467.7 L729.7 469.7 L729.6 471.7 L729.5 473.7 L729.4 475.7 L729.3 477.8 L729.2 479.8 L729.1 481.8 L729.0 483.8 L728.9 485.8 L728.8 487.8 L728.7 489.8 L728.6 491.8 L728.5 493.8 L728.4 495.8 L728.3 497.8 L728.1 499.8 L728.0 501.8 L727.9 503.8 L727.8 505.8 L727.7 507.8 L727.6 509.8 L727.4 511.8 L727.3 513.8 L727.2 515.8 L727.1 517.8 L727.0 519.8 L726.8 521.8 L726.7 523.8 L726.6 525.8 L726.5 527.8 L726.3 529.8 L726.2 531.9 L726.1 533.9 L725.9 535.9 L725.8 537.9 L725.7 539.9 L725.5 541.9 L725.4 543.9 L725.3 545.9 L725.1 547.9 L725.0 549.9 L724.8 551.9 L724.7 553.9 L724.5 555.9 L724.4 557.9 L724.2 559.9 L724.1 561.9 L723.9 563.9 L723.8 565.9 L723.6 567.9 L723.5 569.9 L723.3 571.9 L723.1 573.9 L723.0 575.9 L722.8 577.9 L722.6 579.9 L722.5 581.9 L722.3 583.9 L722.1 585.9 L722.0 587.9 L721.8 589.9 L721.6 591.9 L721.4 593.9 L721.3 595.9 L721.1 597.9 L720.9 599.9 L720.7 601.9 L720.5 603.9 L720.3 605.9 L720.1 607.9 L720.0 609.9 L719.8 611.9 L719.6 613.9 L719.4 615.9 L719.2 617.9 L719.0 619.9 L718.8 621.9 L718.6 623.9 L718.4 625.9 L718.2 627.9 L718.0 629.9 L717.8 631.9 L717.6 633.9 L717.4 635.9 L717.2 637.9 L716.9 639.9 L716.7 641.9 L716.5 643.9 L716.3 645.9 L716.1 647.9 L715.9 649.9 L715.7 651.9 L715.4 653.9 L715.2 655.9 L715.0 657.9 L714.8 659.9 L714.6 661.9 L714.3 663.9 L714.1 665.9 L713.9 667.9 L713.6 669.9 L713.4 671.9 L713.1 673.9 L712.9 675.9 L712.6 677.9 L712.4 679.9 L712.1 681.9 L711.9 683.9 L711.6 685.9 L711.3 687.9 L711.0 689.9 L710.8 691.9 L710.5 693.9 L710.2 695.9 L709.9 697.9 L709.6 699.9 L709.3 701.9 L709.1 703.9 L708.8 705.8 L708.5 707.8 L708.2 709.8 L707.9 711.8 L707.6 713.8 L707.3 715.7 L707.0 717.7 L706.7 719.7 L706.4 721.6 L706.2 723.6 L705.9 725.6 L705.6 727.5 L705.3 729.5 L705.1 731.5 L704.8 733.4 L704.5 735.4 L704.3 737.4 L704.0 739.4 L703.7 741.4 L703.4 743.3 L703.2 745.3 L702.9 747.3 L702.6 749.3 L702.4 751.3 L702.1 753.3 L701.8 755.3 L701.5 757.3 L701.3 759.2 L701.0 761.2 L700.7 763.2 L700.4 765.2 L700.2 767.2 L699.9 769.1 L699.6 771.1 L699.3 773.1 L699.0 775.1 L698.8 777.1 L698.5 779.1 L698.2 781.0 L697.9 783.0 L697.6 785.0 L697.4 787.0 L697.1 789.0 L696.8 791.0 L696.5 793.0 L696.2 795.0 L695.9 797.0 L695.5 799.0 L695.2 801.0 L694.9 803.1 L694.6 805.1 L694.2 807.1 L693.9 809.1 L693.5 811.1 L693.1 813.1 L692.7 815.1 L692.4 817.2 L692.0 819.2 L691.5 821.2 L691.1 823.2 L690.7 825.2 L690.3 827.2 L689.8 829.2 L689.4 831.2 L688.9 833.2 L688.4 835.2 L687.9 837.2 L687.5 839.2 L687.0 841.1 L686.5 843.1 L686.0 845.1 L685.4 847.1 L684.9 849.1 L684.4 851.0 L683.9 853.0 L683.3 855.0 L682.8 856.9 L682.2 858.9 L681.6 860.9 L681.1 862.8 L680.5 864.8 L679.9 866.7 L679.3 868.7 L678.7 870.6 L678.1 872.6 L677.4 874.5 L676.8 876.5 L676.2 878.4 L675.5 880.3 L674.9 882.3 L674.2 884.2 L673.6 886.1 L672.9 888.1 L672.2 890.0 L671.5 892.0 L670.8 893.9 L670.1 895.8 L669.4 897.8 L668.6 899.7 L667.9 901.6 L667.1 903.6 L666.3 905.5 L665.5 907.4 L664.7 909.3 L663.9 911.2 L663.0 913.2 L662.2 915.1 L661.3 917.0 L660.4 918.9 L659.4 920.8 L658.5 922.7 L657.5 924.6 L656.5 926.5 L655.4 928.4 L654.4 930.2 L653.3 932.1 L652.1 934.0 L651.0 935.8 L649.8 937.6 L648.5 939.4 L647.3 941.2 L646.0 942.9 L644.7 944.7 L643.4 946.4 L642.1 948.1 L640.7 949.7 L639.3 951.4 L637.9 953.0 L636.5 954.6 L635.1 956.2 L633.6 957.7 L632.2 959.3 L630.7 960.8 L629.1 962.3 L627.6 963.8 L626.0 965.3 L624.4 966.8 L622.8 968.2 L621.2 969.6 L619.5 971.0 L617.8 972.4 L616.1 973.7 L614.4 975.0 L612.7 976.3 L611.0 977.6 L609.2 978.8 L607.4 980.0 L605.6 981.2 L603.8 982.4 L602.0 983.5 L600.2 984.7 L598.3 985.8 L596.4 986.8 L594.6 987.8 L592.7 988.9 L590.8 989.8 L588.9 990.8 L587.1 991.7 L585.2 992.7 L583.2 993.6 L581.3 994.4 L579.4 995.3 L577.4 996.2 L575.4 997.0 L573.4 997.8 L571.4 998.6 L569.4 999.3 L567.4 1000.0 L565.3 1000.7 L563.3 1001.4 L561.3 1002.0 L559.3 1002.6 L557.3 1003.2 L555.3 1003.8 L553.2 1004.3 L551.2 1004.9 L549.2 1005.4 L547.2 1005.9 L545.2 1006.4 L543.3 1006.9 L541.3 1007.3 L539.3 1007.8 L537.3 1008.3 L535.3 1008.7 L533.4 1009.2 L531.4 1009.6 L529.4 1010.0 L527.5 1010.5 L525.5 1010.9 L523.6 1011.3 L521.7 1011.8 L519.8 1012.2 L517.9 1012.6 L516.1 1013.0 L514.4 1013.4 L512.7 1013.8 L511.1 1014.1 L509.4 1014.5L507.6 1015Q514 1043 528 1066.2L367 1018.9L511.4 934.5Q504.5 960 503.7 974.1L504.6 992.5 L506.2 992.2 L507.8 991.8 L509.5 991.4 L511.3 991.0 L513.1 990.6 L514.9 990.2 L516.8 989.8 L518.7 989.4 L520.6 989.0 L522.6 988.5 L524.5 988.1 L526.5 987.7 L528.4 987.2 L530.3 986.8 L532.2 986.3 L534.2 985.9 L536.1 985.4 L538.0 985.0 L539.9 984.5 L541.8 984.0 L543.7 983.6 L545.5 983.1 L547.4 982.6 L549.2 982.1 L551.1 981.6 L552.9 981.0 L554.7 980.5 L556.5 979.9 L558.3 979.4 L560.0 978.8 L561.8 978.2 L563.5 977.5 L565.2 976.9 L566.9 976.2 L568.6 975.5 L570.3 974.7 L572.0 974.0 L573.7 973.2 L575.4 972.4 L577.1 971.5 L578.8 970.7 L580.5 969.8 L582.2 969.0 L583.8 968.1 L585.4 967.2 L587.0 966.3 L588.6 965.3 L590.2 964.4 L591.8 963.4 L593.3 962.4 L594.9 961.4 L596.4 960.4 L597.9 959.3 L599.4 958.2 L600.9 957.1 L602.3 956.0 L603.8 954.8 L605.2 953.7 L606.6 952.5 L608.0 951.3 L609.3 950.1 L610.7 948.8 L612.0 947.6 L613.4 946.3 L614.7 945.0 L616.0 943.7 L617.2 942.3 L618.5 941.0 L619.7 939.6 L621.0 938.2 L622.2 936.8 L623.4 935.4 L624.5 933.9 L625.7 932.5 L626.8 931.0 L627.9 929.6 L629.0 928.1 L630.0 926.6 L631.1 925.1 L632.1 923.6 L633.0 922.0 L634.0 920.5 L634.9 918.9 L635.8 917.3 L636.7 915.7 L637.6 914.1 L638.4 912.5 L639.3 910.8 L640.1 909.1 L640.9 907.4 L641.7 905.7 L642.5 903.9 L643.3 902.2 L644.0 900.4 L644.8 898.7 L645.5 896.9 L646.2 895.1 L647.0 893.4 L647.7 891.6 L648.3 889.8 L649.0 888.0 L649.7 886.1 L650.4 884.3 L651.0 882.5 L651.7 880.7 L652.3 878.8 L652.9 877.0 L653.6 875.1 L654.2 873.2 L654.8 871.4 L655.4 869.5 L656.0 867.7 L656.6 865.8 L657.2 863.9 L657.8 862.1 L658.4 860.2 L658.9 858.3 L659.5 856.4 L660.0 854.6 L660.6 852.7 L661.1 850.8 L661.6 848.9 L662.2 847.0 L662.7 845.1 L663.2 843.3 L663.7 841.4 L664.2 839.5 L664.7 837.6 L665.1 835.7 L665.6 833.8 L666.1 831.9 L666.5 830.0 L667.0 828.1 L667.4 826.2 L667.9 824.3 L668.3 822.4 L668.7 820.5 L669.1 818.6 L669.5 816.7 L669.9 814.7 L670.3 812.8 L670.6 810.9 L671.0 809.0 L671.4 807.1 L671.7 805.2 L672.0 803.2 L672.4 801.3 L672.7 799.4 L673.0 797.5 L673.3 795.5 L673.6 793.6 L673.9 791.6 L674.2 789.7 L674.5 787.7 L674.8 785.8 L675.1 783.8 L675.4 781.8 L675.7 779.9 L675.9 777.9 L676.2 775.9 L676.5 773.9 L676.8 772.0 L677.0 770.0 L677.3 768.0 L677.6 766.0 L677.9 764.0 L678.2 762.1 L678.4 760.1 L678.7 758.1 L679.0 756.1 L679.3 754.2 L679.5 752.2 L679.8 750.2 L680.1 748.2 L680.3 746.3 L680.6 744.3 L680.9 742.3 L681.2 740.3 L681.4 738.3 L681.7 736.4 L682.0 734.4 L682.2 732.4 L682.5 730.4 L682.8 728.4 L683.0 726.4 L683.3 724.4 L683.6 722.4 L683.9 720.4 L684.2 718.4 L684.5 716.4 L684.7 714.5 L685.0 712.5 L685.3 710.5 L685.6 708.5 L685.9 706.5 L686.2 704.5 L686.5 702.6 L686.8 700.6 L687.1 698.6 L687.4 696.7 L687.6 694.7 L687.9 692.7 L688.2 690.8 L688.5 688.8 L688.8 686.8 L689.0 684.9 L689.3 682.9 L689.6 680.9 L689.8 679.0 L690.1 677.0 L690.3 675.1 L690.6 673.1 L690.8 671.1 L691.1 669.2 L691.3 667.2 L691.5 665.2 L691.7 663.3 L692.0 661.3 L692.2 659.3 L692.4 657.3 L692.6 655.4 L692.9 653.4 L693.1 651.4 L693.3 649.4 L693.5 647.5 L693.7 645.5 L693.9 643.5 L694.2 641.5 L694.4 639.5 L694.6 637.5 L694.8 635.6 L695.0 633.6 L695.2 631.6 L695.4 629.6 L695.6 627.6 L695.8 625.6 L696.0 623.7 L696.2 621.7 L696.4 619.7 L696.6 617.7 L696.8 615.7 L697.0 613.7 L697.2 611.8 L697.4 609.8 L697.6 607.8 L697.7 605.8 L697.9 603.8 L698.1 601.8 L698.3 599.9 L698.5 597.9 L698.7 595.9 L698.8 593.9 L699.0 591.9 L699.2 589.9 L699.4 588.0 L699.5 586.0 L699.7 584.0 L699.9 582.0 L700.1 580.0 L700.2 578.0 L700.4 576.1 L700.6 574.1 L700.7 572.1 L700.9 570.1 L701.0 568.1 L701.2 566.1 L701.3 564.2 L701.5 562.2 L701.7 560.2 L701.8 558.2 L701.9 556.2 L702.1 554.2 L702.2 552.3 L702.4 550.3 L702.5 548.3 L702.7 546.3 L702.8 544.3 L702.9 542.3 L703.1 540.3 L703.2 538.3 L703.4 536.4 L703.5 534.4 L703.6 532.4 L703.7 530.4 L703.9 528.4 L704.0 526.4 L704.1 524.4 L704.3 522.4 L704.4 520.4 L704.5 518.5 L704.6 516.5 L704.7 514.5 L704.9 512.5 L705.0 510.5 L705.1 508.5 L705.2 506.5 L705.3 504.5 L705.5 502.5 L705.6 500.5 L705.7 498.5 L705.8 496.6 L705.9 494.6 L706.0 492.6 L706.1 490.6 L706.2 488.6 L706.3 486.6 L706.4 484.6 L706.5 482.6 L706.6 480.6 L706.7 478.7 L706.8 476.7 L706.9 474.7 L707.0 472.7 L707.1 470.7 L707.2 468.7 L707.3 466.7 L707.4 464.7 L707.5 462.7 L707.6 460.7 L707.6 458.8 L707.7 456.8 L707.8 454.8 L707.9 452.8 L708.0 450.8 L708.0 448.8 L708.1 446.8 L708.2 444.8 L708.3 442.8 L708.3 440.8 L708.4 438.8 L708.5 436.8 L708.6 434.9 L708.6 432.9 L708.7 430.9 L708.8 428.9 L708.8 426.9 L708.9 424.9 L709.0 422.9 L709.0 420.9 L709.1 418.9 L709.1 416.9 L709.2 414.9 L709.2 413.0 L709.3 411.0 L709.3 409.0 L709.4 407.1 L709.4 405.1 L709.4 403.1 L709.5 401.2 L709.5 399.3 L709.5 397.3 L709.4 395.4 L709.4 393.5 L709.4 391.5 L709.3 389.6 L709.3 387.6 L709.2 385.6 L709.1 383.7 L709.1 381.7 L709.0 379.7 L708.9 377.7 L708.8 375.8 L708.7 373.8 L708.6 371.8 L708.5 369.8 L708.4 367.9 L708.3 365.9 L708.2 363.9 L708.1 361.9 L708.0 359.9 L707.9 357.9 L707.8 355.9 L707.7 353.9 L707.6 351.9 L707.5 349.9 L707.4 347.9 L707.3 345.9 L707.2 343.9 L707.1 341.9 L707.0 339.9 L706.9 337.9 L706.8 336.0 L706.7 334.0 L706.6 332.0 L706.4 330.1 L706.3 328.2 L706.1 326.3 L706.0 324.4 L705.8 322.5 L705.6 320.7 L705.4 318.9 L705.1 317.1 L704.9 315.4 L704.6 313.7 L704.2 312.1 L703.8 310.5 L703.4 309.0 L702.9 307.5 L702.4 306.0 L701.8 304.6 L701.2 303.2 L700.5 301.8 L699.7 300.4 L698.9 299.0 L698.1 297.8 L697.2 296.5 L696.3 295.4 L695.4 294.3 L694.5 293.4 L693.6 292.5 L692.6 291.7 L691.6 291.0 L690.6 290.4 L689.6 289.9 L688.5 289.4 L687.4 289.0 L686.3 288.7 L685.2 288.4 L684.1 288.3 L683.0 288.2 L681.8 288.2 L680.7 288.3 L679.4 288.5 L678.2 288.8 L676.9 289.1 L675.6 289.5 L674.2 290.1 L672.9 290.7 L671.5 291.3 L670.2 292.1 L668.8 292.9 L667.4 293.8 L666.0 294.7 L664.6 295.7 L663.2 296.7 L661.8 297.8 L660.5 298.9 L659.1 300.1 L657.8 301.2 L656.5 302.4 L655.3 303.7 L654.0 304.9 L652.7 306.3 L651.5 307.6 L650.2 309.0 L649.0 310.4 L647.7 311.9 L646.4 313.3 L645.1 314.8 L643.8 316.3Z" fill="#a1a1a1"/>
<path d="M806.3 565.6 L803.9 569.7 L801.6 573.7 L799.2 577.8 L796.8 581.8 L794.4 585.8 L792.0 589.8 L789.6 593.9 L787.3 598.0 L784.9 602.1 L782.6 606.3 L780.3 610.6 L778.0 615.0 L775.7 619.5 L773.5 624.0 L771.2 628.7 L769.0 633.4 L766.8 638.2 L764.5 643.0 L762.4 647.8 L760.2 652.6 L758.1 657.5 L756.0 662.4 L754.0 667.2 L752.0 672.0 L750.1 676.8 L748.1 681.8 L746.3 686.8 L744.4 691.8 L742.6 696.8 L740.8 701.8 L739.1 706.8 L737.4 711.6 L735.7 716.4 L734.1 721.1 L732.5 725.6 L731.0 730.0 L729.5 734.2 L728.1 738.4 L726.8 742.5 L725.5 746.5 L724.2 750.4 L723.0 754.2 L721.8 757.9 L720.6 761.4 L719.4 764.9 L718.2 768.2 L717.0 771.3 L715.8 774.3 L714.6 777.1 L713.3 779.6 L712.0 781.9 L710.8 784.1 L709.5 786.1 L708.3 788.1 L707.0 790.0 L705.8 791.8 L704.7 793.7 L703.5 795.7 L702.4 797.8 L701.4 800.0 L700.4 802.3 L699.6 804.6 L698.8 806.8 L698.0 809.1 L697.3 811.4 L696.6 813.8 L695.9 816.2 L695.1 818.6 L694.4 821.2 L693.5 823.9 L692.6 826.6 L691.6 829.5 L690.5 832.6 L689.3 835.9 L688.0 839.3 L686.7 842.9 L685.3 846.6 L684.0 850.3 L682.5 854.0 L681.1 857.7 L679.8 861.2 L678.4 864.7 L677.1 867.9 L675.8 870.9 L674.6 873.7 L673.5 876.3 L672.3 878.8 L671.3 881.2 L670.2 883.5 L669.1 885.8 L668.1 887.9 L667.0 890.0 L665.8 892.1 L664.6 894.2 L663.3 896.3 L662.0 898.4 L660.6 900.5 L659.1 902.6 L657.6 904.8 L656.0 906.8 L654.4 908.9 L652.7 910.9 L651.0 912.9 L649.3 914.9 L647.6 916.7 L645.9 918.6 L644.1 920.3 L642.4 922.0 L640.7 923.6 L638.9 925.1 L637.1 926.5 L635.3 927.8 L633.5 929.1 L631.7 930.4 L629.8 931.6 L628.0 932.8 L626.2 934.0 L624.3 935.3 L622.5 936.5 L620.7 937.8" fill="none" stroke="#fff" stroke-width="7.4"/>
<path d="M806.3 565.6 L803.9 569.7 L801.6 573.7 L799.2 577.8 L796.8 581.8 L794.4 585.8 L792.0 589.8 L789.6 593.9 L787.3 598.0 L784.9 602.1 L782.6 606.3 L780.3 610.6 L778.0 615.0 L775.7 619.5 L773.5 624.0 L771.2 628.7 L769.0 633.4 L766.8 638.2 L764.5 643.0 L762.4 647.8 L760.2 652.6 L758.1 657.5 L756.0 662.4 L754.0 667.2 L752.0 672.0 L750.1 676.8 L748.1 681.8 L746.3 686.8 L744.4 691.8 L742.6 696.8 L740.8 701.8 L739.1 706.8 L737.4 711.6 L735.7 716.4 L734.1 721.1 L732.5 725.6 L731.0 730.0 L729.5 734.2 L728.1 738.4 L726.8 742.5 L725.5 746.5 L724.2 750.4 L723.0 754.2 L721.8 757.9 L720.6 761.4 L719.4 764.9 L718.2 768.2 L717.0 771.3 L715.8 774.3 L714.6 777.1 L713.3 779.6 L712.0 781.9 L710.8 784.1 L709.5 786.1 L708.3 788.1 L707.0 790.0 L705.8 791.8 L704.7 793.7 L703.5 795.7 L702.4 797.8 L701.4 800.0 L700.4 802.3 L699.6 804.6 L698.8 806.8 L698.0 809.1 L697.3 811.4 L696.6 813.8 L695.9 816.2 L695.1 818.6 L694.4 821.2 L693.5 823.9 L692.6 826.6 L691.6 829.5 L690.5 832.6 L689.3 835.9 L688.0 839.3 L686.7 842.9 L685.3 846.6 L684.0 850.3 L682.5 854.0 L681.1 857.7 L679.8 861.2 L678.4 864.7 L677.1 867.9 L675.8 870.9 L674.6 873.7 L673.5 876.3 L672.3 878.8 L671.3 881.2 L670.2 883.5 L669.1 885.8 L668.1 887.9 L667.0 890.0 L665.8 892.1 L664.6 894.2 L663.3 896.3 L662.0 898.4 L660.6 900.5 L659.1 902.6 L657.6 904.8 L656.0 906.8 L654.4 908.9 L652.7 910.9 L651.0 912.9 L649.3 914.9 L647.6 916.7 L645.9 918.6 L644.1 920.3 L642.4 922.0 L640.7 923.6 L638.9 925.1 L637.1 926.5 L635.3 927.8 L633.5 929.1 L631.7 930.4 L629.8 931.6 L628.0 932.8 L626.2 934.0 L624.3 935.3 L622.5 936.5 L620.7 937.8" fill="none" stroke="#727272" stroke-width="5.8" stroke-dasharray="10 5.5"/>
<path d="M859.2 676.2 L862.9 673.3 L866.7 670.4 L870.5 667.5 L874.2 664.6 L878.0 661.7 L881.7 658.8 L885.5 655.9 L889.2 653.1 L893.0 650.2 L896.7 647.4 L900.3 644.7 L904.0 642.0 L907.6 639.4 L911.2 636.7 L914.8 634.2 L918.3 631.6 L921.9 629.1 L925.4 626.6 L928.9 624.1 L932.4 621.7 L935.9 619.3 L939.5 616.9 L943.0 614.5 L946.6 612.2 L950.2 609.9 L953.8 607.6 L957.5 605.3 L961.2 603.1 L964.9 600.9 L968.5 598.7 L972.2 596.5 L975.9 594.3 L979.5 592.2 L983.0 590.1 L986.5 588.1 L990.0 586.0 L993.4 584.0 L996.7 582.0 L1000.0 580.1 L1003.2 578.1 L1006.5 576.3 L1009.6 574.4 L1012.8 572.5 L1016.0 570.7 L1019.1 568.8 L1022.3 567.0 L1025.5 565.1 L1028.7 563.2" fill="none" stroke="#727272" stroke-width="5.8" stroke-dasharray="10 5.5"/>
<path d="M493.8 290.6C491 276 491 266 501 265.5C515 266 535 280 553.3 288.1C575 298 592 304 610 298" fill="none" stroke="#727272" stroke-width="3"/>
<polygon points="607.9,291.9 621.6,292.6 616.6,303" fill="#727272"/>
<path d="M169.1 918.3C185 940 215.3 962 292 972.5" fill="none" stroke="#727272" stroke-width="3"/>
<polygon points="288.7,966.8 302.2,974.7 289.8,980.4" fill="#727272"/>
<path d="M222.1 919.5C236 936 262 953 308 957.5" fill="none" stroke="#727272" stroke-width="3"/>
<polygon points="306.7,952.2 319.1,959 306.7,965.7" fill="#727272"/>
<path d="M784.7 717.2Q745 770 706 822" fill="none" stroke="#727272" stroke-width="2.2"/>
<polygon points="703.4,816.7 714.2,822.6 701.4,827.6" fill="#727272"/>
<path d="M956.2 718.9 L950.6 720.8 L944.9 722.6 L939.2 724.5 L933.4 726.4 L927.6 728.3 L921.8 730.1 L916.1 732.0 L910.5 733.9 L905.1 735.7 L899.8 737.5 L894.8 739.3 L890.0 741.0 L885.5 742.7 L881.1 744.4 L877.0 746.1 L873.0 747.7 L869.1 749.4 L865.4 751.0 L861.8 752.5 L858.3 754.1 L854.8 755.6 L851.4 757.1 L848.1 758.6 L844.7 760.0 L841.4 761.4 L838.2 762.7 L835.2 763.9 L832.2 765.1 L829.3 766.2 L826.4 767.4 L823.6 768.5 L820.8 769.7 L818.0 770.9 L815.2 772.1 L812.4 773.4 L809.5 774.7 L806.6 776.1 L803.6 777.5 L800.7 779.0 L797.7 780.5 L794.7 782.0 L791.8 783.5 L788.9 785.1 L786.0 786.7 L783.2 788.2 L780.4 789.8 L777.6 791.4 L775.0 793.0 L772.5 794.6 L770.0 796.1 L767.7 797.7 L765.5 799.3 L763.2 800.9 L761.1 802.5 L758.9 804.1 L756.6 805.7 L754.4 807.4 L752.0 809.2 L749.6 810.9 L747.0 812.8 L744.3 814.7 L741.3 816.8 L738.3 819.0 L735.1 821.2 L731.9 823.4 L728.6 825.7 L725.5 827.9 L722.4 830.2 L719.4 832.3 L716.6 834.4 L714.0 836.4 L711.7 838.2 L709.6 839.9 L707.8 841.5 L706.0 843.1 L704.5 844.6 L703.0 846.0 L701.7 847.4 L700.5 848.7 L699.3 850.0 L698.2 851.3 L697.1 852.5 L696.1 853.8 L695.0 855.0 L694.0 856.2 L693.1 857.4 L692.2 858.5 L691.4 859.6 L690.7 860.7 L690.0 861.7 L689.4 862.8 L688.7 863.8 L688.1 864.8 L687.4 865.9 L686.7 866.9 L686.0 868.0" fill="none" stroke="#1c1c1c" stroke-width="2.8"/>
<polygon points="678.8,863 694.5,868.9 682.7,875.8" fill="#1c1c1c"/>
<path d="M724.0 921.0 L722.6 922.6 L721.3 924.1 L720.0 925.7 L718.8 927.2 L717.5 928.7 L716.2 930.3 L714.9 931.8 L713.5 933.4 L712.1 935.0 L710.6 936.6 L709.0 938.2 L707.3 939.8 L705.5 941.5 L703.6 943.2 L701.6 944.9 L699.5 946.6 L697.4 948.4 L695.2 950.2 L693.0 951.9 L690.8 953.7 L688.5 955.4 L686.2 957.1 L684.0 958.8 L681.7 960.4 L679.4 962.0 L677.1 963.5 L674.8 965.0 L672.4 966.5 L670.0 967.9 L667.6 969.4 L665.2 970.8 L662.8 972.2 L660.4 973.6 L658.0 975.1 L655.6 976.5 L653.2 978.0 L650.8 979.5 L648.4 981.0 L646.1 982.5 L643.7 983.9 L641.3 985.4 L638.9 986.9 L636.5 988.4 L634.1 989.9 L631.8 991.4 L629.4 992.9 L627.0 994.4 L624.6 995.9" fill="none" stroke="#000" stroke-width="5" stroke-dasharray="5 4.6"/>
<polygon points="593.1,1008.7 611.9,987 621.7,1012.6" fill="#000"/>
<path d="M1098.0 715.7H1116" stroke="#000" stroke-width="2.9" fill="none"/><polygon points="1114,711.7 1123.3,715.7 1114,719.7" fill="#000"/>
<path d="M1098.0 738.8H1116" stroke="#000" stroke-width="2.9" fill="none"/><polygon points="1114,734.8 1123.3,738.8 1114,742.8" fill="#000"/>
<path d="M1103.0 766.0H1116" stroke="#000" stroke-width="2.9" fill="none"/><polygon points="1114,762.0 1123.3,766.0 1114,770.0" fill="#000"/>
<path d="M1105.0 800.0H1116" stroke="#000" stroke-width="2.9" fill="none"/><polygon points="1114,796.0 1123.3,800.0 1114,804.0" fill="#000"/>
<path d="M1105.0 813.7H1116" stroke="#000" stroke-width="2.9" fill="none"/><polygon points="1114,809.7 1123.3,813.7 1114,817.7" fill="#000"/>
<path d="M1234.5 703.8H1290.3V831H1234.5" fill="none" stroke="#333" stroke-width="1"/>
<path d="M1183.9 871.5H1276.4V1047.8H1183.9" fill="none" stroke="#333" stroke-width="1"/>
<path d="M82.5 68.3V1113.5M79.5 1110.5H1125" stroke="#000" stroke-width="6" fill="none"/>
<path d="M82 71.0H99M82 331.0H99M82 591.0H99M82 851.0H99M82 200.5H90.5M82 460.5H90.5M82 720.5H90.5M82 980.5H90.5M230.8 1111V1093.5M527.9 1111V1093.5M825.0 1111V1093.5M1122.1 1111V1093.5M379.3 1111V1101.7M676.4 1111V1101.7M973.5 1111V1101.7" stroke="#000" stroke-width="5.6" fill="none"/>
<text x="66.8" y="78.7" font-size="24.5" font-family='"Liberation Sans",Arial,sans-serif' font-weight="bold" text-anchor="end" >40</text>
<text x="66.8" y="338.7" font-size="24.5" font-family='"Liberation Sans",Arial,sans-serif' font-weight="bold" text-anchor="end" >30</text>
<text x="66.8" y="598.7" font-size="24.5" font-family='"Liberation Sans",Arial,sans-serif' font-weight="bold" text-anchor="end" >20</text>
<text x="66.8" y="858.7" font-size="24.5" font-family='"Liberation Sans",Arial,sans-serif' font-weight="bold" text-anchor="end" >10</text>
<text x="66.8" y="1118.7" font-size="24.5" font-family='"Liberation Sans",Arial,sans-serif' font-weight="bold" text-anchor="end" >0</text>
<text x="233.3" y="1149.3" font-size="25.2" font-family='"Liberation Sans",Arial,sans-serif' font-weight="bold" text-anchor="middle" >400</text>
<text x="530.5" y="1149.3" font-size="25.2" font-family='"Liberation Sans",Arial,sans-serif' font-weight="bold" text-anchor="middle" >600</text>
<text x="827.6" y="1149.3" font-size="25.2" font-family='"Liberation Sans",Arial,sans-serif' font-weight="bold" text-anchor="middle" >800</text>
<text x="1126.4" y="1149.3" font-size="25.2" font-family='"Liberation Sans",Arial,sans-serif' font-weight="bold" text-anchor="middle" >1000</text>
<text x="29.5" y="684.5" font-size="43.5" font-family='"Liberation Serif","Times New Roman",serif' transform="rotate(-90.0 29.5 684.5)" textLength="264.5" lengthAdjust="spacingAndGlyphs" >Pressure (kbar)</text>
<text x="491.5" y="1209.3" font-size="43.5" font-family='"Liberation Serif","Times New Roman",serif' textLength="305.0" lengthAdjust="spacingAndGlyphs" >Temperature (°C)</text>
<text x="217.5" y="315.5" font-size="28" font-family='"Liberation Serif","Times New Roman",serif' textLength="355.0" lengthAdjust="spacingAndGlyphs" >Entrapment of high saline brine</text>
<text x="989.0" y="19.3" font-size="28" font-family='"Liberation Serif","Times New Roman",serif' textLength="243.5" lengthAdjust="spacingAndGlyphs" >Presumed entrapment</text>
<text x="989.0" y="50.8" font-size="28" font-family='"Liberation Serif","Times New Roman",serif' >condition for N<tspan font-size="15" dy="5.5">2</tspan><tspan dy="-5.5"> &amp;</tspan></text>
<text x="989.0" y="83.3" font-size="28" font-family='"Liberation Serif","Times New Roman",serif' >CH<tspan font-size="15" dy="5.5">4</tspan><tspan dy="-5.5"> inclusion</tspan></text>
<text x="989.0" y="450.0" font-size="28" font-family='"Liberation Serif","Times New Roman",serif' textLength="243.5" lengthAdjust="spacingAndGlyphs" >Presumed entrapment</text>
<text x="996.5" y="481.5" font-size="28" font-family='"Liberation Serif","Times New Roman",serif' >condition for CO<tspan font-size="15" dy="5.5">2</tspan><tspan dy="-5.5"></tspan></text>
<text x="996.5" y="515.0" font-size="28" font-family='"Liberation Serif","Times New Roman",serif' >inclusion</text>
<text x="980.8" y="659.0" font-size="28" font-family='"Liberation Serif","Times New Roman",serif' >Water from</text>
<text x="972.2" y="690.0" font-size="28" font-family='"Liberation Serif","Times New Roman",serif' >surrounding</text>
<text x="978.6" y="721.0" font-size="28" font-family='"Liberation Serif","Times New Roman",serif' >rock</text>
<text x="98.5" y="872.5" font-size="28" font-family='"Liberation Serif","Times New Roman",serif' textLength="216.0" lengthAdjust="spacingAndGlyphs" >Re-equilibration of</text>
<text x="105.0" y="905.0" font-size="28" font-family='"Liberation Serif","Times New Roman",serif' >H<tspan font-size="15" dy="5.5">2</tspan><tspan dy="-5.5">O-NaCl fluid</tspan></text>
<text x="751.0" y="180.0" font-size="30.5" font-family='"Liberation Serif","Times New Roman",serif' font-weight="bold" >Zone</text>
<text x="751.0" y="214.0" font-size="30.5" font-family='"Liberation Serif","Times New Roman",serif' font-weight="bold" >of</text>
<text x="751.0" y="247.5" font-size="30.5" font-family='"Liberation Serif","Times New Roman",serif' font-weight="bold" >Peak P-T</text>
<text x="391.0" y="917.5" font-size="30.5" font-family='"Liberation Serif","Times New Roman",serif' font-weight="bold" >Zone of</text>
<text x="391.0" y="951.5" font-size="30.5" font-family='"Liberation Serif","Times New Roman",serif' font-weight="bold" >Retrograde</text>
<text x="391.0" y="986.0" font-size="30.5" font-family='"Liberation Serif","Times New Roman",serif' font-weight="bold" >P-T</text>
<text x="443.0" y="225.0" font-size="37" font-family='"Liberation Serif","Times New Roman",serif' transform="rotate(-23.5 443.0 225.0)" textLength="143.0" lengthAdjust="spacingAndGlyphs" >Diamond</text>
<text x="480.0" y="259.0" font-size="37" font-family='"Liberation Serif","Times New Roman",serif' transform="rotate(-23.5 480.0 259.0)" textLength="131.0" lengthAdjust="spacingAndGlyphs" >Graphite</text>
<text x="329.0" y="392.0" font-size="37" font-family='"Liberation Serif","Times New Roman",serif' transform="rotate(-14.7 329.0 392.0)" textLength="117.0" lengthAdjust="spacingAndGlyphs" >Coesite</text>
<text x="346.0" y="434.5" font-size="37" font-family='"Liberation Serif","Times New Roman",serif' transform="rotate(-14.7 346.0 434.5)" textLength="106.0" lengthAdjust="spacingAndGlyphs" >Quartz</text>
<text x="722.0" y="705.0" font-size="27.5" font-family='"Liberation Serif","Times New Roman",serif' font-weight="bold" transform="rotate(-61.5 722.0 705.0)" >Eclogite</text>
<text x="756.0" y="746.0" font-size="28.5" font-family='"Liberation Serif","Times New Roman",serif' font-weight="bold" transform="rotate(-65.5 756.0 746.0)" >Amphibolite</text>
<text x="789.5" y="712.0" font-size="22" font-family='"Liberation Serif","Times New Roman",serif' font-weight="bold" transform="rotate(-63.0 789.5 712.0)" >Introduction</text>
<text x="813.0" y="722.0" font-size="21" font-family='"Liberation Serif","Times New Roman",serif' font-weight="bold" transform="rotate(-61.0 813.0 722.0)" >of Cl</text>
<text x="890.0" y="633.5" font-size="29" font-family='"Liberation Serif","Times New Roman",serif' font-weight="bold" transform="rotate(-32.0 890.0 633.5)" >Eclogite</text>
<text x="908.0" y="667.0" font-size="29" font-family='"Liberation Serif","Times New Roman",serif' font-weight="bold" transform="rotate(-32.3 908.0 667.0)" >Granulite</text>
<text x="619.0" y="990.0" font-size="22" font-family='"Liberation Serif","Times New Roman",serif' transform="rotate(-35.0 619.0 990.0)" >Decreasing</text>
<text x="654.0" y="1005.0" font-size="25" font-family='"Liberation Sans",Arial,sans-serif' transform="rotate(-34.0 654.0 1005.0)" >salinity</text>
<text x="1126.5" y="719.3" font-size="19" font-family='"Liberation Sans",Arial,sans-serif' >(1)</text>
<text x="1150.9" y="719.3" font-size="18.5" font-family='"Liberation Serif","Times New Roman",serif' font-weight="bold" textLength="114.6" lengthAdjust="spacingAndGlyphs" >Secondary FI in Qz</text>
<text x="1126.5" y="742.5" font-size="19" font-family='"Liberation Sans",Arial,sans-serif' >(5)</text>
<text x="1150.9" y="742.5" font-size="18.5" font-family='"Liberation Serif","Times New Roman",serif' font-weight="bold" textLength="53.0" lengthAdjust="spacingAndGlyphs" >FI in Grt</text>
<text x="1127.5" y="770.0" font-size="19" font-family='"Liberation Sans",Arial,sans-serif' >(2)</text>
<text x="1151.5" y="770.0" font-size="18.5" font-family='"Liberation Serif","Times New Roman",serif' font-weight="bold" textLength="133.5" lengthAdjust="spacingAndGlyphs" >FI in Qz hosted by Grt</text>
<text x="1128.5" y="803.5" font-size="19" font-family='"Liberation Sans",Arial,sans-serif' >(4)</text>
<text x="1151.5" y="803.5" font-size="18.5" font-family='"Liberation Serif","Times New Roman",serif' font-weight="bold" textLength="138.0" lengthAdjust="spacingAndGlyphs" >FI in Omp hosted by Grt</text>
<text x="1128.5" y="818.5" font-size="19" font-family='"Liberation Sans",Arial,sans-serif' >(3)</text>
<text x="1153.0" y="818.5" font-size="18.5" font-family='"Liberation Serif","Times New Roman",serif' font-weight="bold" textLength="61.0" lengthAdjust="spacingAndGlyphs" >FI in Omp</text>
<text x="1316.6" y="663.5" font-size="22" font-family='"Liberation Serif","Times New Roman",serif' font-weight="bold" transform="rotate(90.0 1316.6 663.5)" textLength="190.5" lengthAdjust="spacingAndGlyphs" >Isochores of H<tspan font-size="13" dy="4">2</tspan><tspan dy="-4">O-NaCl</tspan></text>
<text x="1292.8" y="728.0" font-size="22" font-family='"Liberation Serif","Times New Roman",serif' font-weight="bold" transform="rotate(90.0 1292.8 728.0)" textLength="68.5" lengthAdjust="spacingAndGlyphs" >inclusion</text>
<text x="1309.0" y="880.4" font-size="22" font-family='"Liberation Serif","Times New Roman",serif' font-weight="bold" transform="rotate(90.0 1309.0 880.4)" textLength="170.4" lengthAdjust="spacingAndGlyphs" >Isochores of CO<tspan font-size="13" dy="4">2</tspan><tspan dy="-4">, N</tspan><tspan font-size="13" dy="4">2</tspan></text>
<text x="1286.3" y="890.2" font-size="22" font-family='"Liberation Serif","Times New Roman",serif' font-weight="bold" transform="rotate(90.0 1286.3 890.2)" textLength="134.8" lengthAdjust="spacingAndGlyphs" >&amp; CH<tspan font-size="13" dy="4">4</tspan><tspan dy="-4"> inclusion</tspan></text>
</svg>
</body></html>
